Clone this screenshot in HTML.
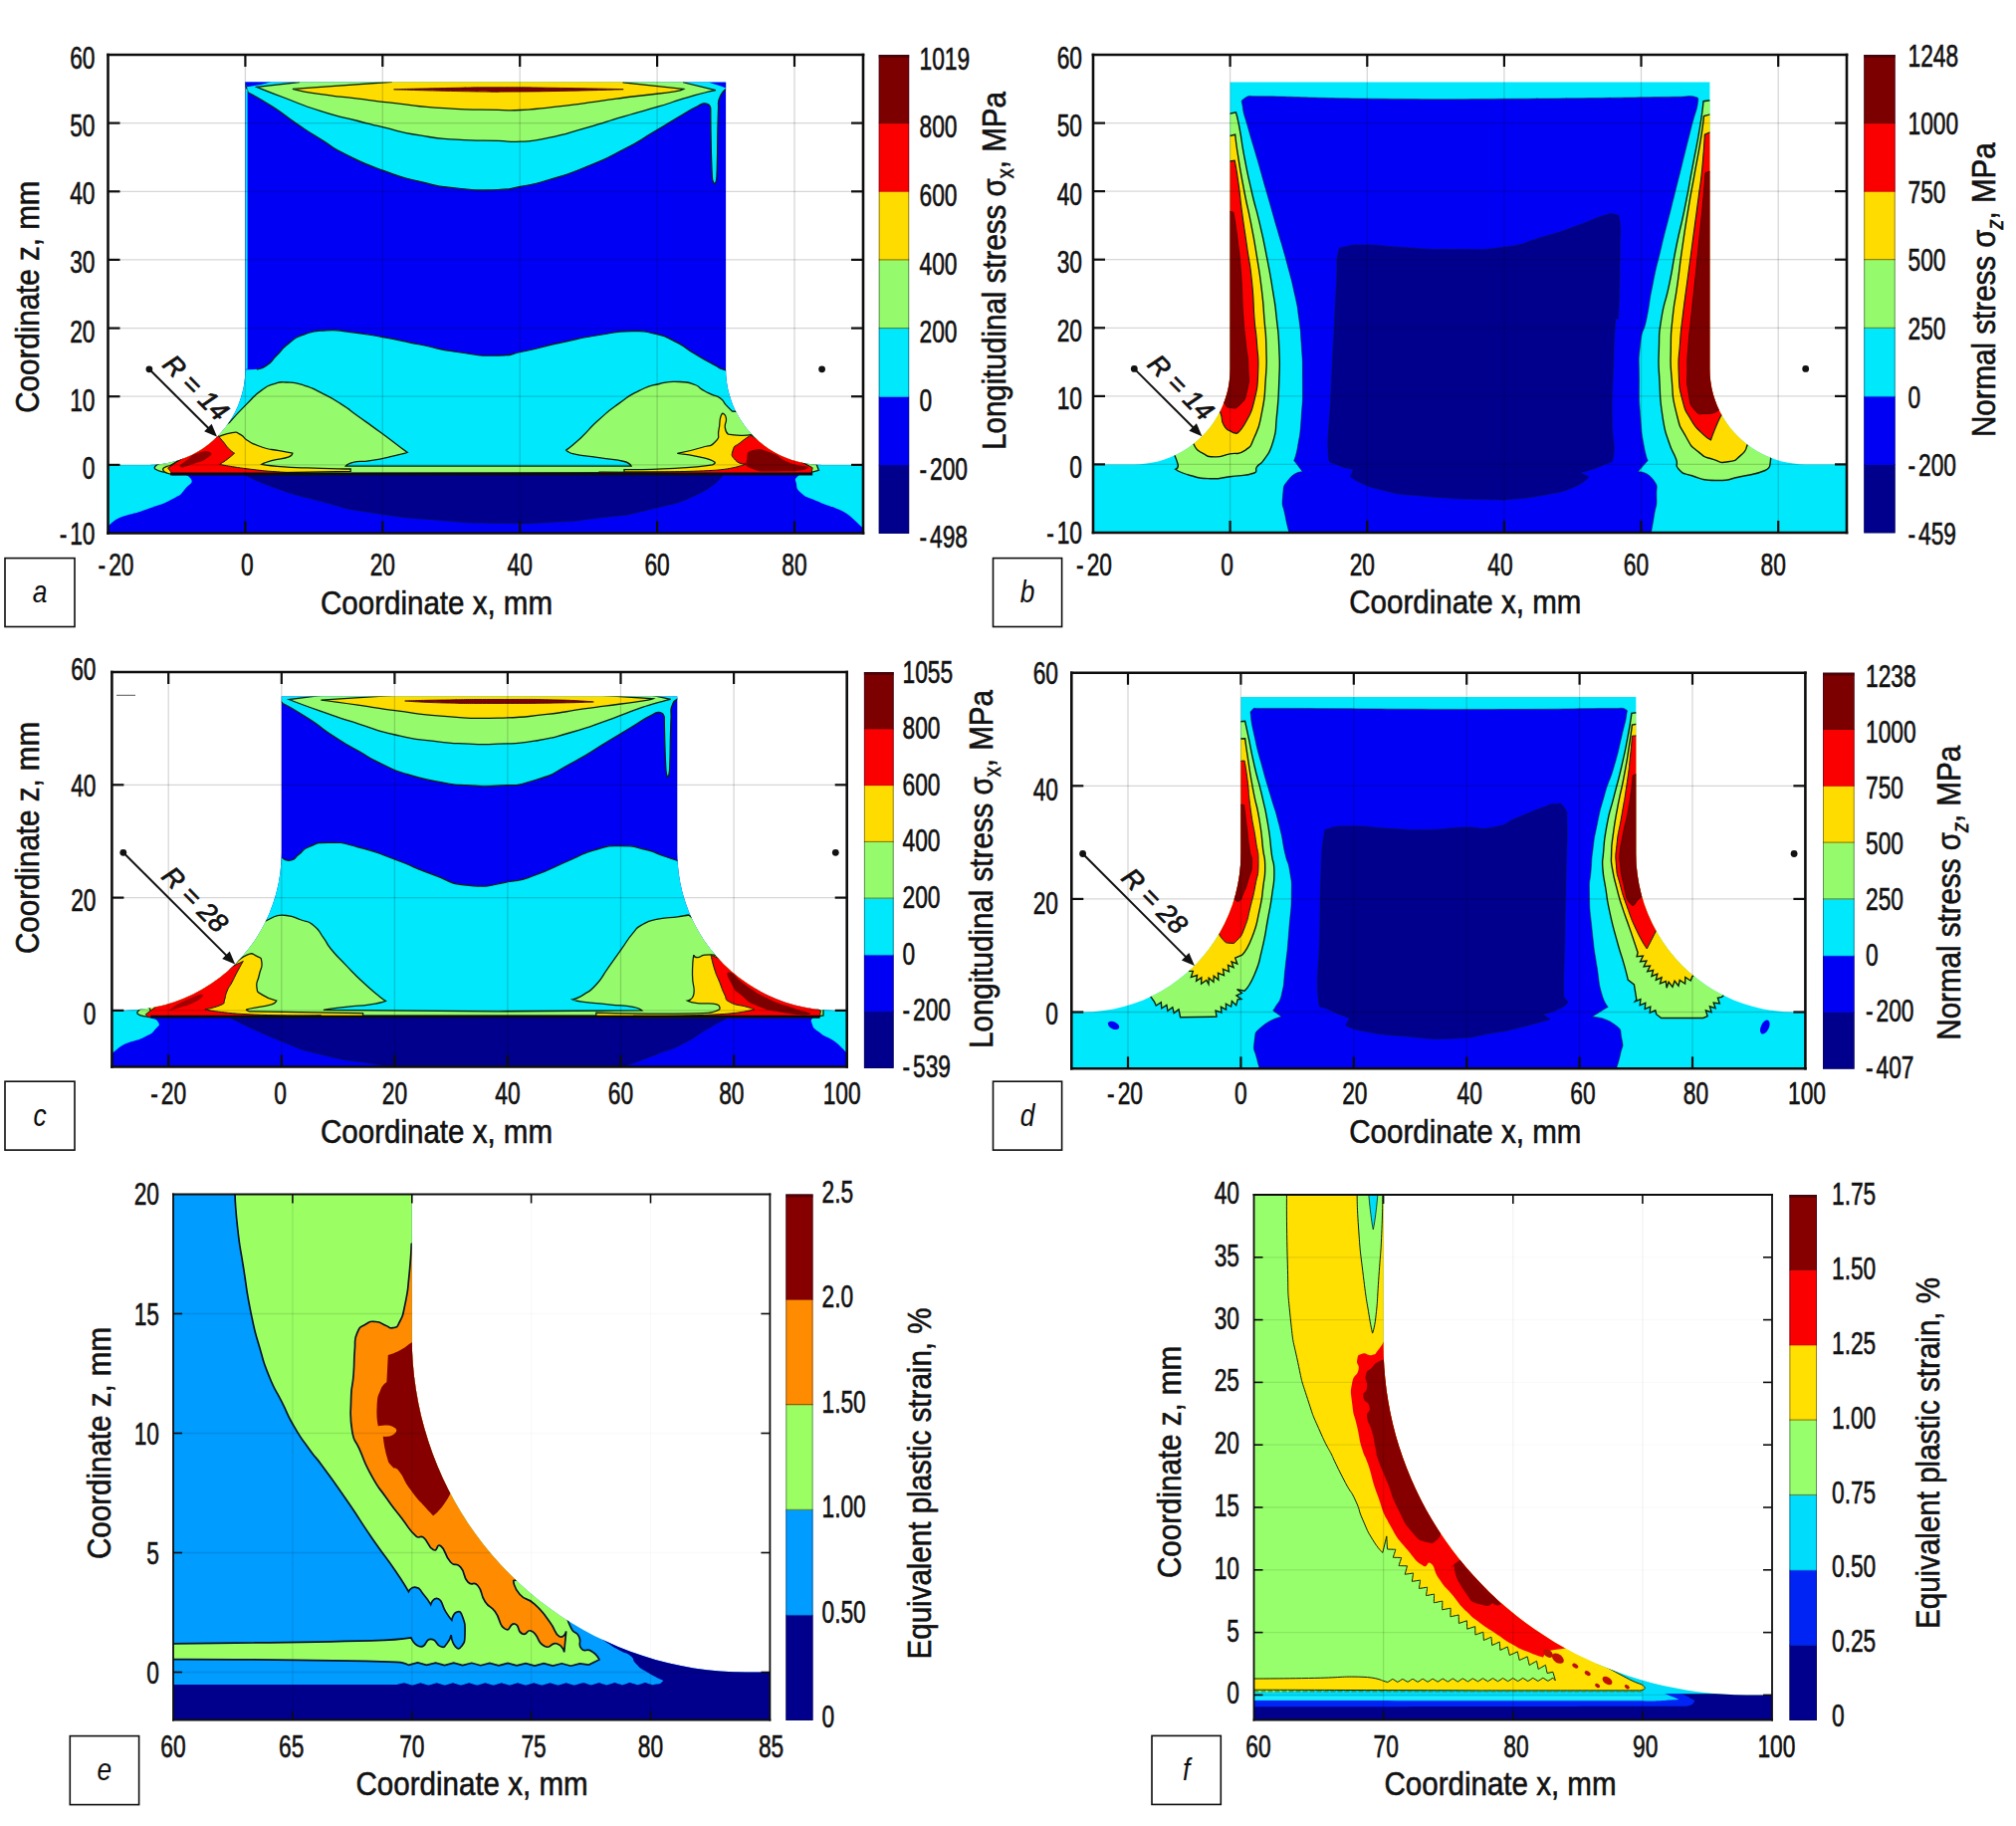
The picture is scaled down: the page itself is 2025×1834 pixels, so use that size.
<!DOCTYPE html><html><head><meta charset="utf-8"><title>Figure</title><style>html,body{margin:0;padding:0;background:#fff}svg{display:block}</style></head><body><svg width="2025" height="1834" viewBox="0 0 2025 1834" font-family="'Liberation Sans', sans-serif">
<defs>
<clipPath id="ca"><rect x="108.5" y="55" width="758.5" height="480.5"/></clipPath>
<clipPath id="cb"><rect x="1098" y="55" width="757" height="480"/></clipPath>
<clipPath id="cc"><rect x="112.4" y="675" width="738.3" height="396.5"/></clipPath>
<clipPath id="cd"><rect x="1076.3" y="675.7" width="737.1" height="397.6"/></clipPath>
<clipPath id="ce"><rect x="174" y="1199.5" width="599.4" height="528"/></clipPath>
<clipPath id="cf"><rect x="1259.5" y="1200" width="520.5" height="527.5"/></clipPath>
</defs>
<rect width="2025" height="1834" fill="#fff"/>
<g clip-path="url(#ca)"><clipPath id="spa"><path d="M101.6 466.9 L149.9 466.9 L156.2 466.7 L162.5 466 L168.7 465 L174.9 463.6 L180.9 461.8 L186.8 459.5 L192.6 456.9 L198.1 454 L203.5 450.7 L208.6 447 L213.5 443 L218.1 438.7 L222.5 434.1 L226.5 429.3 L230.1 424.1 L233.5 418.8 L236.5 413.3 L239.1 407.5 L241.3 401.6 L243.1 395.6 L244.6 389.5 L245.6 383.3 L246.2 377 L246.4 370.8 L246.4 82.5 L729.1 82.5 L729.1 370.8 L729.3 377 L729.9 383.3 L730.9 389.5 L732.4 395.6 L734.2 401.6 L736.4 407.5 L739 413.3 L742 418.8 L745.4 424.1 L749 429.3 L753 434.1 L757.4 438.7 L762 443 L766.9 447 L772 450.7 L777.4 454 L782.9 456.9 L788.7 459.5 L794.6 461.8 L800.6 463.6 L806.8 465 L813 466 L819.3 466.7 L825.6 466.9 L873.9 466.9 L873.9 542.4 L101.6 542.4Z"/></clipPath><g clip-path="url(#spa)"><rect x="108.5" y="55" width="758.5" height="480.5" fill="#0000f4"/><path d="M99.2 458.9C119 437 138.1 455.6 158.7 458.9C165.5 460 156.6 463.8 161.2 468.8C166.2 474.2 165 471.8 173.6 475C183.5 478.7 186.8 474.6 191 480C195.1 485.3 191.2 484.8 186 491.1C180.2 498.2 183 496.1 173.6 501.1C161.2 507.7 165.3 505.2 148.8 511C132.5 516.7 140.5 513.9 124 518.4C107.6 522.9 105.8 540.3 99.2 524.6C90.9 504.8 79.4 480.8 99.2 458.9Z" fill="#00e8fc"/><path d="M881 462.2C861.9 440.6 843.1 460.1 823.8 462.2C819.6 462.7 826.2 465.7 823 468.6C819.2 472 819.2 469.2 812.4 472.4C805 475.8 805.2 474.5 801 478.7C797.9 481.8 798.7 480.9 799.7 485.1C801 490.6 799.1 490.3 804.8 495.2C811.5 501.2 809.6 498.3 820 502.9C832.7 508.4 827.7 505.7 842.9 511.7C863.2 519.8 868.3 543.5 881 527C893.7 510.5 900 483.8 881 462.2Z" fill="#00e8fc"/><path d="M244.3 475.8C244.3 475.8 253.2 481.7 272.8 488.7C298.9 497.9 289.4 494.9 322.4 503.5C355.2 512.1 338.5 509.5 372 514.7C413.4 521.1 403.8 519.3 446.4 522.9C482.1 525.8 465.2 524.8 500 525.4C533.9 525.9 517 526.4 550.8 524.7C584.7 523 567.9 524.4 601.6 520.1C635.4 515.8 619 519.9 652.4 511.7C686.2 503.4 678.6 506.8 703.2 495.2C720.8 486.9 726 477 726 477C726 477 244.3 475.8 244.3 475.8Z" fill="#00008d" stroke="#06200a" stroke-width="0.8" stroke-opacity="0.5"/><path d="M223.2 370.8C223.2 370.8 243.1 372.1 257.9 370.8C265 370.3 262 371.1 267.9 367.1C274.5 362.6 271.2 363.8 277.8 357.2C285.2 349.8 281.1 351.8 290.2 344.8C299.3 337.8 294.2 339.9 305.1 336.1C317.5 331.8 312.3 332.7 327.4 331.9C343.1 331.1 335.7 331.7 352.2 333.6C371.2 335.9 363 334.8 384.4 338.6C407.6 342.7 396.8 341.1 421.6 346C446.4 351 433.8 349.9 458.8 353.5C485 357.2 477.8 357.4 500 357.2C517.2 357.1 508.6 356.5 525.4 353C546.6 348.7 538.1 349.6 563.5 344.1C588.8 338.6 577.9 340.3 601.6 336.5C623.5 333 616 333.1 634.6 332.7C649.9 332.4 643.1 331.9 657.5 335.2C671.5 338.6 664.8 336.4 677.8 342.9C691.3 349.6 685.4 347.9 698.1 355.6C709.8 362.6 705.5 360.2 715.9 365.7C724.6 370.3 719.5 370.4 729.3 372.1C742 374.2 754 372.1 754 372.1C754 372.1 839.4 473 839.4 473C839.4 473 136.1 473 136.1 473C136.1 473 223.2 370.8 223.2 370.8Z" fill="#00e8fc"/><path d="M257.9 370.8C257.9 370.8 262 371.1 267.9 367.1C274.5 362.6 271.2 363.8 277.8 357.2C285.2 349.8 281.1 351.8 290.2 344.8C299.3 337.8 294.2 339.9 305.1 336.1C317.5 331.8 312.3 332.7 327.4 331.9C343.1 331.1 335.7 331.7 352.2 333.6C371.2 335.9 363 334.8 384.4 338.6C407.6 342.7 396.8 341.1 421.6 346C446.4 351 433.8 349.9 458.8 353.5C485 357.2 477.8 357.4 500 357.2C517.2 357.1 508.6 356.5 525.4 353C546.6 348.7 538.1 349.6 563.5 344.1C588.8 338.6 577.9 340.3 601.6 336.5C623.5 333 616 333.1 634.6 332.7C649.9 332.4 643.1 331.9 657.5 335.2C671.5 338.6 664.8 336.4 677.8 342.9C691.3 349.6 685.4 347.9 698.1 355.6C709.8 362.6 705.5 360.2 715.9 365.7C724.6 370.3 729.3 372.1 729.3 372.1" fill="none" stroke="#06200a" stroke-width="1.2"/><path d="M230.7 424.2C230.7 424.2 237.3 416.3 248 405.6C257.5 396 253.8 398.5 262.9 391.9C270.4 386.5 267 388.4 275.3 385.7C283.2 383.2 279.4 383.6 287.7 384C297.6 384.4 293.8 383.6 305.1 387C316.6 390.4 311.2 388.8 322.4 394.4C334.8 400.6 329.9 397.7 342.3 405.6C354.3 413.2 348.1 409.7 359.6 418C372.9 427.5 367.9 423.8 381.9 434.1C395.3 443.9 392.7 442.2 401.8 449C406.7 452.6 409.2 454.4 409.2 454.4C409.2 454.4 405.2 455.8 396.8 457.6C384.4 460.4 386.1 460.4 372 462.6C360.5 464.4 362.9 462.5 354.7 464.3C349.2 465.5 347.2 468.1 347.2 468.1C347.2 468.1 500 468.1 500 468.1C500 468.1 500 468.1 500 468.1C500 468.1 634.1 468.1 634.1 468.1C634.1 468.1 632.4 464.9 627 463.5C616.1 460.7 618.5 462.2 601.6 459.7C584.7 457.1 587.2 458.4 576.2 455.9C570.7 454.6 568.6 452.1 568.6 452.1C568.6 452.1 574.1 448.3 583.8 439.4C594.8 429.2 589.1 432.8 601.6 421.6C614.3 410.2 608.4 414.8 621.9 405.1C634.9 395.8 628.7 398.9 642.2 392.4C655.1 386.2 649 388.5 662.5 385.5C675.8 382.6 671 383.2 682.9 383.5C693.2 383.8 690.5 383.8 698.1 386.5C703.8 388.6 700.4 388.5 705.7 391.6C711.2 394.8 708.7 393.4 714.6 396.2C720.4 398.9 718.6 396.4 723.5 400C728.4 403.5 725.4 402.5 729.3 406.9C733.2 411.1 735.4 413 735.4 413C735.4 413 779.4 416.5 779.4 416.5C779.4 416.5 820 466 820 466C820 466 822.5 472.4 822.5 472.4C822.5 472.4 814.9 474.4 814.9 474.4C814.9 474.4 173.6 475.8 173.6 475.8C173.6 475.8 161.2 474.4 156.2 471.3C153.1 469.3 158.7 466.3 158.7 466.3C158.7 466.3 230.7 424.2 230.7 424.2Z" fill="#96fb6c" stroke="#06200a" stroke-width="1.3"/><path d="M213.3 441.5C213.3 441.5 223.6 436.2 233.1 434.6C239 433.6 236.9 434.1 241.8 436.6C246.7 439 243.3 439.2 248 442C255 446.2 252.5 445.5 262.9 449C273.6 452.5 269.9 450.6 280.3 452.7C289.3 454.5 293.9 455.2 293.9 455.2C293.9 455.2 293.5 457.7 290.2 458.9C283.2 461.4 281.9 460.1 272.8 462.6C266 464.5 262.9 466.3 262.9 466.3C262.9 466.3 270.3 467.8 285.2 468.8C305.1 470.1 300.1 469.6 322.4 470.3C342.3 471 352.2 471 352.2 471C352.2 471 352.2 473.3 352.2 473.3C352.2 473.3 173.6 476.7 173.6 476.7C173.6 476.7 164.5 474.8 163.7 471.8C162.9 468.7 171.1 467.6 171.1 467.6C171.1 467.6 213.3 441.5 213.3 441.5Z" fill="#ffdc00" stroke="#06200a" stroke-width="1.3"/><path d="M627 471.6C627 471.6 648.2 472 677.8 470.3C703.1 469 715.6 466.8 715.6 466.8C715.6 466.8 719.6 465.3 717.7 464C714 461.5 713.6 461.5 704.7 459.4C692.3 456.6 680.3 455.4 680.3 455.4C680.3 455.4 692 453.4 704.7 449.5C714.2 446.6 712.7 449.6 718.4 443.7C724.2 437.8 720.3 439.7 722 431.7C723.6 423.9 722.3 425.3 723.5 419.8C724.2 416.5 725.5 415.2 725.5 415.2C725.5 415.2 728.6 415.9 729.3 419.8C730.3 424.6 727.6 424.3 728.3 429.7C728.9 434.4 731.4 436.1 731.4 436.1C731.4 436.1 736.2 437.2 743.8 437.3C750.8 437.5 754.2 436.6 754.2 436.6C754.2 436.6 779.4 447 779.4 447C779.4 447 814.9 469.8 814.9 469.8C814.9 469.8 814.9 475.4 814.9 475.4C814.9 475.4 627 473.9 627 473.9C627 473.9 627 471.6 627 471.6Z" fill="#ffdc00" stroke="#06200a" stroke-width="1.3"/><path d="M168.7 470C168.7 470 218.3 436.6 218.3 436.6C218.3 436.6 220.3 439 224.5 444C228.6 449 226.9 447.7 230.7 451.4C233.6 454.4 235.6 455.2 235.6 455.2C235.6 455.2 233.1 457.6 228.2 461.4C223.4 464.9 220.7 466.3 220.7 466.3C220.7 466.3 229.7 468.5 248 470.8C269.5 473.4 264.6 472.8 285.2 474.3C301.7 475.5 310 475.3 310 475.3C310 475.3 310 476.7 310 476.7C310 476.7 173.6 476.7 173.6 476.7C173.6 476.7 168.7 470 168.7 470Z" fill="#fb0000" stroke="#06200a" stroke-width="1.0"/><path d="M754 437.3C754 437.3 749.7 439.5 743.8 444.4C738.3 449 737.9 446.1 736.2 452.1C734.5 458 734.5 457.6 738.7 462.2C743 466.9 748.9 466 748.9 466C748.9 466 738.3 471.2 715.9 472.4C666.8 475 601.6 473.9 601.6 473.9C601.6 473.9 601.6 475.9 601.6 475.9C601.6 475.9 814.9 475.9 814.9 475.9C814.9 475.9 816.2 469.8 816.2 469.8C816.2 469.8 754 437.3 754 437.3Z" fill="#fb0000" stroke="#06200a" stroke-width="1.0"/><path d="M756.5 452.1C764.6 449.9 763 450.7 774.3 454.6C786.1 458.7 779.8 459 792.1 464.3C804.3 469.5 815.3 467.3 811.1 470.3C806.9 473.4 798.4 473.4 779.4 473.4C762.3 473.4 763.7 474.5 754 470.3C747.7 467.7 749.3 467 750.2 461C751 454.9 749.5 453.9 756.5 452.1Z" fill="#7c0000"/><path d="M198.4 455.2C205.9 452.7 207.5 452.3 210.8 453.9C214.1 455.6 212 457.5 208.3 460.1C202.5 464.3 202.5 463.4 193.5 466.3C185.4 468.9 182.7 470.5 181.1 468.8C179.4 467.2 183 465.7 188.5 461.4C194.3 456.8 191 457.6 198.4 455.2Z" fill="#7c0000" opacity="0.85"/><line x1="171.1" y1="475.9" x2="816.2" y2="475.9" stroke="#0a0a14" stroke-width="3"/><path d="M244.3 79.4C244.3 79.4 249.3 93 249.3 93C249.3 93 257.5 96.9 272.8 106.6C288.9 117 281.1 112.8 297.6 124C314 135 305.9 129.8 322.4 140.1C338.8 150.3 330 146.4 347.2 155C367.9 165.3 359.6 162 384.4 171.1C408.7 180 396.8 176.3 421.6 182.3C446.1 188.2 433.8 186.4 458.8 189C485 191.7 478.7 191 500 190.5C515.4 190.1 507.8 190.3 522.9 187.4C539.8 184.2 532.5 186.3 550.8 180.8C572.8 174.2 564 177.7 588.9 167.6C614.3 157.3 604.1 161.7 627 149.8C647.9 139 638.8 143.1 657.5 132.1C674.5 122 668.5 125.3 682.9 116.8C694.6 109.9 691.7 110.9 700.6 106.7C706.2 104 705.1 103.3 709.5 104.1C713.9 105 713.8 109.2 713.8 109.2C713.8 109.2 714 152.6 715.4 177.8C715.6 182.8 717.9 184.9 717.9 184.9C717.9 184.9 719.7 182.7 719.9 177.8C721.1 152.6 720.3 136.3 721.5 109.2C721.8 100.6 720.3 103.3 723.5 96.5C726.6 90 731.1 88.9 731.1 88.9C731.1 88.9 731.1 81.3 731.1 81.3C731.1 81.3 244.3 79.4 244.3 79.4Z" fill="#00e8fc" stroke="#06200a" stroke-width="1.2"/><path d="M257.9 87.3C257.9 87.3 266.9 91.1 285.2 98C306.7 106.1 297.6 103.8 322.4 111.6C346.9 119.4 339 116.2 359.6 121.5C376.1 125.8 367.8 123.9 384.4 127.7C405.1 132.5 396.8 131.8 421.6 135.9C446.2 140 433.9 138.4 458.8 140.1C485 141.9 478.7 140.7 500 141.4C515.2 141.9 507.6 143.1 522.9 142.2C539.8 141.2 532.4 142.3 550.8 138.4C572.8 133.8 563.6 135.4 588.9 128.3C614.3 121.1 602.4 124 627 116.8C650.6 109.9 641.4 113 662.5 106.7C681.3 101.1 671.7 103.1 690.5 97.8C709.3 92.4 718.9 90.7 718.9 90.7C718.9 90.7 686.7 82.8 686.7 82.8C686.7 82.8 686.7 76.2 686.7 76.2C686.7 76.2 300.1 74.4 300.1 74.4C300.1 74.4 300.1 82.6 300.1 82.6C300.1 82.6 257.9 87.3 257.9 87.3Z" fill="#96fb6c" stroke="#06200a" stroke-width="1.3"/><path d="M293.9 89.3C293.9 89.3 303.3 91.9 322.4 94.7C344.3 98 334.8 96.2 359.6 99.2C384.4 102.2 372 101 396.8 103.7C425.8 106.8 413.3 106.5 446.4 108.6C480.8 110.9 474.5 109.8 500 110.4C515.2 110.7 507.6 111.4 522.9 110.5C544 109.2 537.2 109.6 563.5 106.7C589 103.8 576.2 105 601.6 101.6C627 98.2 614.3 99.7 639.7 96.5C665.1 93.3 662.1 94.3 677.8 91.9C683.9 91 686.7 89.4 686.7 89.4C686.7 89.4 626.2 82.8 626.2 82.8C626.2 82.8 626.2 76.2 626.2 76.2C626.2 76.2 393.1 74.4 393.1 74.4C393.1 74.4 393.1 82.3 393.1 82.3C393.1 82.3 293.9 89.3 293.9 89.3Z" fill="#ffdc00" stroke="#06200a" stroke-width="1.3"/><path d="M395.6 89.8C395.6 89.8 412.5 89.2 446.4 88.5C481.2 87.9 464.3 87.8 500 87.8C539 87.7 521.4 87.8 563.5 88.4C605.3 89 626.2 89.7 626.2 89.7C626.2 89.7 605.3 90.6 563.5 91.4C521.4 92.3 521.2 91.9 500 92.2C500 92.2 500 92.3 500 92.3C482.1 92 481.2 92.1 446.4 91.3C412.5 90.5 395.6 89.8 395.6 89.8Z" fill="#7c0000" stroke="#300" stroke-width="0.8"/><path d="M245.5 81.8 L272.8 82.3 L262.9 84.8 L248 87.3Z" fill="#0000f4"/><path d="M712.1 82.8 L730.1 82.8 L730.1 88.9 L723.5 86.3Z" fill="#0000f4"/><line x1="247.5" y1="89.3" x2="247.5" y2="370.8" stroke="#00e8fc" stroke-width="2.2"/></g><g stroke="#000" stroke-opacity="0.16" stroke-width="1.3"><line x1="246.4" y1="55" x2="246.4" y2="535.5"/><line x1="384.3" y1="55" x2="384.3" y2="535.5"/><line x1="522.2" y1="55" x2="522.2" y2="535.5"/><line x1="660.1" y1="55" x2="660.1" y2="535.5"/><line x1="798" y1="55" x2="798" y2="535.5"/><line x1="108.5" y1="466.9" x2="867" y2="466.9"/><line x1="108.5" y1="398.2" x2="867" y2="398.2"/><line x1="108.5" y1="329.6" x2="867" y2="329.6"/><line x1="108.5" y1="260.9" x2="867" y2="260.9"/><line x1="108.5" y1="192.3" x2="867" y2="192.3"/><line x1="108.5" y1="123.6" x2="867" y2="123.6"/></g></g>
<g stroke="#0d0d0d" fill="none"><g stroke-width="2.6" stroke-linecap="square"><line x1="108.5" y1="55" x2="108.5" y2="535.5"/><line x1="867" y1="55" x2="867" y2="535.5"/><line x1="108.5" y1="55" x2="867" y2="55"/><line x1="108.5" y1="535.5" x2="867" y2="535.5"/></g><g stroke-width="2.2"><line x1="246.4" y1="55" x2="246.4" y2="67"/><line x1="246.4" y1="535.5" x2="246.4" y2="523.5"/><line x1="384.3" y1="55" x2="384.3" y2="67"/><line x1="384.3" y1="535.5" x2="384.3" y2="523.5"/><line x1="522.2" y1="55" x2="522.2" y2="67"/><line x1="522.2" y1="535.5" x2="522.2" y2="523.5"/><line x1="660.1" y1="55" x2="660.1" y2="67"/><line x1="660.1" y1="535.5" x2="660.1" y2="523.5"/><line x1="798" y1="55" x2="798" y2="67"/><line x1="798" y1="535.5" x2="798" y2="523.5"/><line x1="108.5" y1="466.9" x2="120.5" y2="466.9"/><line x1="867" y1="466.9" x2="855" y2="466.9"/><line x1="108.5" y1="398.2" x2="120.5" y2="398.2"/><line x1="867" y1="398.2" x2="855" y2="398.2"/><line x1="108.5" y1="329.6" x2="120.5" y2="329.6"/><line x1="867" y1="329.6" x2="855" y2="329.6"/><line x1="108.5" y1="260.9" x2="120.5" y2="260.9"/><line x1="867" y1="260.9" x2="855" y2="260.9"/><line x1="108.5" y1="192.3" x2="120.5" y2="192.3"/><line x1="867" y1="192.3" x2="855" y2="192.3"/><line x1="108.5" y1="123.6" x2="120.5" y2="123.6"/><line x1="867" y1="123.6" x2="855" y2="123.6"/></g></g>
<text transform="translate(116.5 578) scale(0.746 1)" font-size="30.5" text-anchor="middle" fill="#111" stroke="#111" stroke-width="0.6">-<tspan dx="4">20</tspan></text><text transform="translate(248.4 578) scale(0.746 1)" font-size="30.5" text-anchor="middle" fill="#111" stroke="#111" stroke-width="0.6">0</text><text transform="translate(384.3 578) scale(0.746 1)" font-size="30.5" text-anchor="middle" fill="#111" stroke="#111" stroke-width="0.6">20</text><text transform="translate(522.2 578) scale(0.746 1)" font-size="30.5" text-anchor="middle" fill="#111" stroke="#111" stroke-width="0.6">40</text><text transform="translate(660.1 578) scale(0.746 1)" font-size="30.5" text-anchor="middle" fill="#111" stroke="#111" stroke-width="0.6">60</text><text transform="translate(798 578) scale(0.746 1)" font-size="30.5" text-anchor="middle" fill="#111" stroke="#111" stroke-width="0.6">80</text><text transform="translate(95.5 546.9) scale(0.746 1)" font-size="30.5" text-anchor="end" fill="#111" stroke="#111" stroke-width="0.6">-<tspan dx="4">10</tspan></text><text transform="translate(95.5 481.2) scale(0.746 1)" font-size="30.5" text-anchor="end" fill="#111" stroke="#111" stroke-width="0.6">0</text><text transform="translate(95.5 413.2) scale(0.746 1)" font-size="30.5" text-anchor="end" fill="#111" stroke="#111" stroke-width="0.6">10</text><text transform="translate(95.5 343.6) scale(0.746 1)" font-size="30.5" text-anchor="end" fill="#111" stroke="#111" stroke-width="0.6">20</text><text transform="translate(95.5 273.5) scale(0.746 1)" font-size="30.5" text-anchor="end" fill="#111" stroke="#111" stroke-width="0.6">30</text><text transform="translate(95.5 204.5) scale(0.746 1)" font-size="30.5" text-anchor="end" fill="#111" stroke="#111" stroke-width="0.6">40</text><text transform="translate(95.5 136.9) scale(0.746 1)" font-size="30.5" text-anchor="end" fill="#111" stroke="#111" stroke-width="0.6">50</text><text transform="translate(95.5 69) scale(0.746 1)" font-size="30.5" text-anchor="end" fill="#111" stroke="#111" stroke-width="0.6">60</text>
<rect x="882.7" y="466.9" width="30.5" height="69.1" fill="#00008d"/><rect x="882.7" y="398.2" width="30.5" height="69.1" fill="#0000f4"/><rect x="882.7" y="329.6" width="30.5" height="69.1" fill="#00e8fc"/><rect x="882.7" y="260.9" width="30.5" height="69.1" fill="#96fb6c"/><rect x="882.7" y="192.3" width="30.5" height="69.1" fill="#ffdc00"/><rect x="882.7" y="123.6" width="30.5" height="69.1" fill="#fb0000"/><rect x="882.7" y="55" width="30.5" height="69.1" fill="#7c0000"/><rect x="882.7" y="55" width="30.5" height="3" fill="#3a0000" opacity="0.55"/><line x1="882.7" y1="466.9" x2="913.2" y2="466.9" stroke="#1a2a10" stroke-width="1" opacity="0.15"/><line x1="882.7" y1="398.2" x2="913.2" y2="398.2" stroke="#1a2a10" stroke-width="1" opacity="0.15"/><line x1="882.7" y1="329.6" x2="913.2" y2="329.6" stroke="#1a2a10" stroke-width="1" opacity="0.6"/><line x1="882.7" y1="260.9" x2="913.2" y2="260.9" stroke="#1a2a10" stroke-width="1" opacity="0.6"/><line x1="882.7" y1="192.3" x2="913.2" y2="192.3" stroke="#1a2a10" stroke-width="1" opacity="0.15"/><line x1="882.7" y1="123.6" x2="913.2" y2="123.6" stroke="#1a2a10" stroke-width="1" opacity="0.15"/><rect x="883.2" y="55.5" width="29.5" height="479.5" fill="none" stroke="#101030" stroke-width="1" opacity="0.45"/><text transform="translate(923.5 550.3) scale(0.746 1)" font-size="30.5" text-anchor="start" fill="#111" stroke="#111" stroke-width="0.6">-<tspan dx="4">498</tspan></text><text transform="translate(923.5 481.7) scale(0.746 1)" font-size="30.5" text-anchor="start" fill="#111" stroke="#111" stroke-width="0.6">-<tspan dx="4">200</tspan></text><text transform="translate(923.5 413) scale(0.746 1)" font-size="30.5" text-anchor="start" fill="#111" stroke="#111" stroke-width="0.6">0</text><text transform="translate(923.5 344.4) scale(0.746 1)" font-size="30.5" text-anchor="start" fill="#111" stroke="#111" stroke-width="0.6">200</text><text transform="translate(923.5 275.7) scale(0.746 1)" font-size="30.5" text-anchor="start" fill="#111" stroke="#111" stroke-width="0.6">400</text><text transform="translate(923.5 207.1) scale(0.746 1)" font-size="30.5" text-anchor="start" fill="#111" stroke="#111" stroke-width="0.6">600</text><text transform="translate(923.5 138.4) scale(0.746 1)" font-size="30.5" text-anchor="start" fill="#111" stroke="#111" stroke-width="0.6">800</text><text transform="translate(923.5 69.8) scale(0.746 1)" font-size="30.5" text-anchor="start" fill="#111" stroke="#111" stroke-width="0.6">1019</text>
<text transform="translate(438.5 616.7) scale(0.869 1)" font-size="34" text-anchor="middle" fill="#111" stroke="#111" stroke-width="0.6">Coordinate x, mm</text>
<text transform="translate(39.1 298.2) rotate(-90) scale(0.869 1)" font-size="34" text-anchor="middle" fill="#111" stroke="#111" stroke-width="0.6">Coordinate z, mm</text>
<text transform="translate(1009.5 272) rotate(-90) scale(0.869 1)" font-size="34" text-anchor="middle" fill="#111" stroke="#111" stroke-width="0.6">Longitudinal stress σ<tspan font-size="23" dy="8">x</tspan><tspan dy="-8">, MPa</tspan></text>
<circle cx="149.9" cy="370.8" r="3.4" fill="#111"/><circle cx="825.6" cy="370.8" r="3.4" fill="#111"/><line x1="149.9" y1="370.8" x2="214.1" y2="434.7" stroke="#111" stroke-width="2"/><path d="M218.1 438.7 l-13 -5.5 l7.5 -7.5z" fill="#111"/><text transform="translate(190.3 396) rotate(45)" font-size="27" font-style="italic" fill="#111" stroke="#111" stroke-width="0.7" text-anchor="middle">R = 14</text>
<rect x="5" y="560.6" width="70" height="68.9" fill="#fff" stroke="#0d0d0d" stroke-width="1.6"/><text x="40" y="605" font-size="31" font-style="italic" text-anchor="middle" fill="#0d0d0d" transform="translate(40 0) scale(0.85 1) translate(-40 0)">a</text>
<g clip-path="url(#cb)"><clipPath id="spb"><path d="M1091.1 466.4 L1139.3 466.4 L1145.6 466.2 L1151.9 465.6 L1158.1 464.6 L1164.2 463.2 L1170.3 461.3 L1176.2 459.1 L1181.9 456.5 L1187.5 453.6 L1192.8 450.2 L1197.9 446.6 L1202.8 442.6 L1207.4 438.3 L1211.7 433.7 L1215.7 428.9 L1219.4 423.8 L1222.7 418.4 L1225.7 412.9 L1228.3 407.2 L1230.5 401.3 L1232.4 395.3 L1233.8 389.2 L1234.8 383 L1235.4 376.7 L1235.6 370.4 L1235.6 82.4 L1717.4 82.4 L1717.4 370.4 L1717.6 376.7 L1718.2 383 L1719.2 389.2 L1720.6 395.3 L1722.5 401.3 L1724.7 407.2 L1727.3 412.9 L1730.3 418.4 L1733.6 423.8 L1737.3 428.9 L1741.3 433.7 L1745.6 438.3 L1750.2 442.6 L1755.1 446.6 L1760.2 450.2 L1765.5 453.6 L1771.1 456.5 L1776.8 459.1 L1782.7 461.3 L1788.8 463.2 L1794.9 464.6 L1801.1 465.6 L1807.4 466.2 L1813.7 466.4 L1861.9 466.4 L1861.9 541.9 L1091.1 541.9Z"/></clipPath><g clip-path="url(#spb)"><rect x="1098" y="55" width="757" height="480" fill="#00e8fc"/><path d="M1262.5 96.7C1254.1 96.7 1254.9 95.4 1250.1 98.7C1245.6 101.8 1247.4 101.2 1248.1 106.6C1249.4 116.7 1249.7 114.2 1253.8 129C1258.6 146.3 1256.8 138.9 1262.5 158.7C1268.7 180.2 1265.8 170.3 1272.4 193.5C1279 216.6 1275.7 205 1282.3 228.2C1289 251.3 1286.1 239.7 1292.3 262.9C1298.4 285.9 1296.8 278.6 1300.9 297.6C1304.1 312.4 1302.7 305 1304.7 320C1306.7 335.7 1306.1 328.2 1307.1 344.8C1308.4 365.5 1308.4 357.2 1308.4 382C1308.4 406.8 1308.8 396.9 1307.1 419.2C1305.7 439.1 1305.9 434.5 1303.4 449C1301.8 458.3 1299.7 462.6 1299.7 462.6C1299.7 462.6 1308.4 473.8 1308.4 473.8C1308.4 473.8 1301.2 473.1 1294.7 481.2C1288.1 489.5 1289.8 486.3 1288.5 498.6C1287.3 511 1288.6 505.3 1291 518.4C1293.5 531.6 1296 538.3 1296 538.3C1296 538.3 1657.7 538.3 1657.7 538.3C1657.7 538.3 1659.3 531.6 1661.4 518.4C1663.5 505.2 1664.3 511 1663.9 498.6C1663.5 486.7 1666.4 489.5 1660.2 481.2C1654 472.9 1645.3 473.8 1645.3 473.8C1645.3 473.8 1655.2 462.6 1655.2 462.6C1655.2 462.6 1653.1 458.3 1651.5 449C1649 434.5 1649.2 439.1 1647.8 419.2C1646.1 396.9 1646.5 406.8 1646.5 382C1646.5 357.2 1645.3 365.5 1647.8 344.8C1649.8 327.8 1650.5 336.7 1654 319.9C1658.1 300.1 1655.4 308.2 1660.2 285.2C1665.1 261.2 1662.9 272.8 1668.8 248C1675 222.4 1672.2 234.8 1678.8 208.3C1685.4 181.9 1682.1 195.1 1688.7 168.7C1695.3 142.2 1693 151.3 1698.6 129C1703.2 110.8 1704.3 112.3 1705.6 101.7C1706 98 1705.9 98 1702.3 97.2C1695.9 95.7 1697 97.1 1686.2 97.2C1627.1 97.9 1625.7 98.5 1525 99.2C1431 99.8 1471.5 100 1384 99.2C1303 98.4 1307.1 96.9 1262.5 96.7Z" fill="#0000f4" stroke="#06200a" stroke-width="0.8" stroke-opacity="0.6"/><path d="M1344.3 253C1345.5 247.8 1345.4 249.3 1350.5 248C1359.6 245.7 1357.5 245.9 1371.6 246C1391.1 246.2 1384 247.2 1408.8 248.5C1437.8 250 1425.3 250.7 1458.4 250.5C1492.8 250.3 1481.5 252.1 1512 248C1537.8 244.5 1524.8 245.5 1549.8 238.1C1574.8 230.7 1566.3 233 1587 225.7C1603.7 219.8 1600.1 219.7 1611.8 216.3C1618.5 214.3 1617.3 213.8 1622.2 215.3C1626.7 216.6 1626 216.1 1626.7 220.7C1628.3 231.6 1627.4 229.8 1627.2 248C1626.8 281.1 1626.9 295.9 1625.4 319.9C1625.3 321.6 1623.1 318.4 1623 320C1621.3 336.6 1621.7 336.5 1620.5 369.6C1619.2 402.7 1619.2 389.4 1619.2 419.2C1619.2 445.7 1623 443.2 1620.5 458.9C1619.3 466.4 1618.7 463 1611.8 466.3C1600.6 471.7 1587 475 1587 475C1587 475 1595.7 478.7 1595.7 478.7C1595.7 478.7 1592.5 484.4 1582 488.7C1566.7 494.9 1571.7 493.2 1549.8 497.3C1526.7 501.7 1525.2 500.1 1512.6 501.8C1512.1 501.9 1512.5 502.3 1512 502.3C1485.7 501.2 1476.3 502.3 1433.6 498.6C1400.3 495.7 1409.7 497.7 1384 491.1C1364.7 486.1 1356.7 478.7 1356.7 478.7C1356.7 478.7 1359.2 471.3 1359.2 471.3C1359.2 471.3 1350.1 470.5 1341.9 466.3C1335.6 463.2 1334.9 465.9 1334.4 458.9C1332.8 434.9 1335 437.4 1336.9 394.4C1339 348.1 1338.8 356.4 1340.6 320C1341.8 296.8 1341.1 307.6 1342.4 285.2C1343.6 263.7 1341.6 265.4 1344.3 253Z" fill="#00008d" stroke="#06200a" stroke-width="0.8" stroke-opacity="0.5"/><path d="M1230.3 115.3C1230.3 115.3 1241.4 112.8 1241.4 112.8C1241.4 112.8 1243.1 118.1 1245.1 129C1248 144.3 1246.3 139 1250.1 158.7C1254.2 180.2 1252.6 172 1257.5 193.5C1262.1 213.4 1260.4 203.3 1265 223.2C1269.9 244.7 1267.9 234.8 1272.4 257.9C1276.9 281 1275.3 272 1278.6 292.7C1281.5 310.8 1280.4 301.7 1282.3 320C1284.4 339 1284 329.9 1284.8 349.8C1285.6 370.4 1285.6 360.5 1284.8 382C1284 405.2 1284.4 398.5 1282.3 419.2C1280.7 435.8 1282.8 430 1278.6 444C1275 456.4 1275.3 453.1 1269.9 461.4C1266.1 467.3 1265.8 464.3 1262.5 468.8C1259.9 472.4 1264.2 473.5 1260 475C1250.9 478.3 1250.1 476.8 1235.2 478.7C1222 480.4 1228.6 481.1 1215.4 480.7C1202.1 480.3 1207.1 480.6 1195.5 477.5C1185.2 474.7 1180.7 471.3 1180.7 471.3C1180.7 471.3 1184.1 469.9 1183.1 466.3C1180.7 457.2 1173.2 444 1173.2 444C1173.2 444 1210.4 320 1210.4 320C1210.4 320 1230.3 115.3 1230.3 115.3Z" fill="#96fb6c" stroke="#06200a" stroke-width="1.4"/><path d="M1230.3 137.6C1230.3 137.6 1240.7 135.2 1240.7 135.2C1240.7 135.2 1241.4 143.1 1243.9 158.7C1247 178.2 1246 172 1250.1 193.5C1253.9 213.4 1252.5 203.3 1256.3 223.2C1260.4 244.7 1258.8 234.8 1262.5 257.9C1266.2 281 1265 272 1267.5 292.7C1269.6 310.8 1268.5 301.8 1269.9 320C1271.4 339 1271.5 329.9 1271.9 349.8C1272.3 370.4 1272.7 360.6 1271.2 382C1269.7 403.5 1271.2 395.2 1267.5 414.2C1264.1 431.2 1265.8 426.2 1260 439C1255.4 449.3 1258.4 447.1 1250.1 452.7C1241.8 458.3 1245.1 453.8 1235.2 455.9C1225.3 458 1229.4 459.1 1220.3 458.9C1211.7 458.7 1214.5 458.5 1207.9 455.2C1202.2 452.3 1200.5 449 1200.5 449C1200.5 449 1195.5 439 1195.5 439C1195.5 439 1210.4 320 1210.4 320C1210.4 320 1230.3 137.6 1230.3 137.6Z" fill="#ffdc00" stroke="#06200a" stroke-width="1.4"/><path d="M1230.3 162.5C1230.3 162.5 1240.2 161.2 1240.2 161.2C1240.2 161.2 1241.8 168.6 1243.9 183.5C1246.4 200.9 1244.9 193.5 1247.6 213.3C1250.5 234.8 1249.3 224.9 1252.6 248C1255.9 271.2 1255.1 259.5 1257.5 282.7C1260 306.7 1258.4 299.3 1260 320C1261.3 336.6 1261.4 328.2 1262.5 344.8C1263.7 363 1264.6 355.5 1263.7 374.6C1262.9 392.9 1263.7 386.1 1260 401.8C1256.8 415.6 1258.4 410.5 1252.6 421.7C1247.4 431.7 1242.7 435.3 1242.7 435.3C1242.7 435.3 1239.6 435.7 1235.2 432.8C1230.7 430 1231.8 431.8 1229 426.6C1226.1 421.3 1228.6 423.2 1226.5 416.7C1224.5 410.1 1222.8 406.8 1222.8 406.8C1222.8 406.8 1210.4 320 1210.4 320C1210.4 320 1230.3 162.5 1230.3 162.5Z" fill="#fb0000" stroke="#06200a" stroke-width="1.1"/><path d="M1230.3 210.8C1230.3 210.8 1238.9 213.3 1238.9 213.3C1238.9 213.3 1240.6 221.5 1242.7 238.1C1245.1 257.9 1244.6 249.6 1246.4 272.8C1248.4 300.1 1247.2 296 1248.9 320C1250 336.6 1249.7 328.3 1251.3 344.8C1253 361.3 1253.4 353.9 1253.8 369.6C1254.2 384.5 1255.5 379.5 1252.6 391.9C1250.1 402.7 1250.9 401 1245.1 406.8C1240.3 411.6 1240.2 409.7 1235.2 409.3C1231.1 408.9 1232.8 408.8 1230.3 405.6C1226.9 401.4 1225.3 396.9 1225.3 396.9C1225.3 396.9 1210.4 320 1210.4 320C1210.4 320 1230.3 210.8 1230.3 210.8Z" fill="#7c0000" stroke="#300" stroke-width="0.8"/><path d="M1720.9 100.4C1720.9 100.4 1711 101.7 1711 101.7C1711 101.7 1710.3 110.9 1707.3 129C1703.6 151.3 1704.8 142.2 1699.9 168.7C1694.9 195.1 1697.8 182 1692.4 208.3C1687 234.8 1688.9 222.4 1683.7 248C1678.7 272.7 1681.7 261.2 1676.8 285.2C1672 308.5 1672.3 298.5 1668.8 320C1665.7 339.7 1667 329.9 1666.4 349.8C1665.7 370.4 1665.7 360.5 1666.9 382C1668.1 405.2 1666.9 398.5 1670.1 419.2C1672.7 436.1 1671.7 430 1676.3 444C1680.2 456 1680.4 452.3 1683.7 461.4C1686.1 467.8 1681.6 466.3 1686.2 471.3C1691.2 476.7 1689.8 474.8 1698.6 477.5C1711 481.2 1706.9 482 1723.4 482.5C1739.9 482.9 1731.8 482 1748.2 478.7C1764.7 475.4 1763.1 476.7 1773 472.5C1777.9 470.5 1778 466.3 1778 466.3C1778 466.3 1780.5 444 1780.5 444C1780.5 444 1748.2 320 1748.2 320C1748.2 320 1720.9 100.4 1720.9 100.4Z" fill="#96fb6c" stroke="#06200a" stroke-width="1.4"/><path d="M1720.9 114.1C1720.9 114.1 1711.5 116.6 1711.5 116.6C1711.5 116.6 1710.9 124.1 1708.5 138.9C1705.5 157.9 1706.5 150.5 1702.3 173.6C1698.2 196.8 1700 185.1 1696.1 208.3C1692 233.1 1693.7 222.4 1689.9 248C1686.3 272.8 1688.3 261.2 1685 285.2C1681.8 308.4 1682.2 298.5 1680 320C1678 339.8 1678.5 329.9 1678.3 349.8C1678 370.4 1677.5 360.6 1679.3 382C1681.1 403.5 1678.9 395.2 1683.7 414.2C1688.1 431.5 1686.2 425.8 1693.7 439C1700 450.3 1697 446.5 1706.1 453.9C1714.6 461 1711 458.1 1720.9 461.4C1730.5 464.5 1726.7 465.1 1735.8 463.8C1744.9 462.6 1742 462.6 1748.2 457.6C1753.8 453.2 1754.4 449 1754.4 449C1754.4 449 1760.6 431.6 1760.6 431.6C1760.6 431.6 1748.2 320 1748.2 320C1748.2 320 1720.9 114.1 1720.9 114.1Z" fill="#ffdc00" stroke="#06200a" stroke-width="1.4"/><path d="M1720.9 131.4C1720.9 131.4 1712.3 135.2 1712.3 135.2C1712.3 135.2 1711.8 147.6 1709.8 168.7C1707.8 188.6 1708.6 178.6 1706.1 198.4C1703.2 220.7 1704.4 210.8 1701.1 235.6C1697.8 260.4 1699.4 248 1696.1 272.8C1692.4 300.9 1692.8 296 1689.9 320C1687.9 336.5 1688.6 328.2 1687.5 344.8C1686.2 363 1685.4 355.5 1686.2 374.6C1687 392.9 1685.8 386.1 1689.9 401.8C1693.6 415.8 1692.4 410.9 1698.6 421.7C1703.9 430.9 1701.9 427.3 1708.5 434.1C1714.4 440.1 1718.5 442 1718.5 442C1718.5 442 1720.1 437.1 1723.4 429.1C1726.5 421.6 1728.4 418 1728.4 418C1728.4 418 1748.2 394.4 1748.2 394.4C1748.2 394.4 1748.2 320 1748.2 320C1748.2 320 1720.9 131.4 1720.9 131.4Z" fill="#fb0000" stroke="#06200a" stroke-width="1.1"/><path d="M1720.9 171.1C1720.9 171.1 1713 173.6 1713 173.6C1713 173.6 1712.5 181.9 1711 198.4C1709.1 219.1 1709.8 210.8 1707.3 235.6C1704.8 260.4 1706.1 248 1703.6 272.8C1700.7 300.9 1701.1 296 1698.6 320C1696.9 336.5 1697.4 328.3 1696.1 344.8C1694.9 361.3 1694.9 353.1 1694.9 369.6C1694.9 386.1 1693.7 380.4 1696.1 394.4C1698.3 406.5 1696.5 404.7 1702.3 411.8C1707.3 417.8 1706.1 415.1 1713.5 415.5C1720.9 415.9 1724.7 413 1724.7 413C1724.7 413 1748.2 394.4 1748.2 394.4C1748.2 394.4 1748.2 320 1748.2 320C1748.2 320 1720.9 171.1 1720.9 171.1Z" fill="#7c0000" stroke="#300" stroke-width="0.8"/></g><g stroke="#000" stroke-opacity="0.16" stroke-width="1.3"><line x1="1235.6" y1="55" x2="1235.6" y2="535"/><line x1="1373.3" y1="55" x2="1373.3" y2="535"/><line x1="1510.9" y1="55" x2="1510.9" y2="535"/><line x1="1648.5" y1="55" x2="1648.5" y2="535"/><line x1="1786.2" y1="55" x2="1786.2" y2="535"/><line x1="1098" y1="466.4" x2="1855" y2="466.4"/><line x1="1098" y1="397.9" x2="1855" y2="397.9"/><line x1="1098" y1="329.3" x2="1855" y2="329.3"/><line x1="1098" y1="260.7" x2="1855" y2="260.7"/><line x1="1098" y1="192.1" x2="1855" y2="192.1"/><line x1="1098" y1="123.6" x2="1855" y2="123.6"/></g></g>
<g stroke="#0d0d0d" fill="none"><g stroke-width="2.6" stroke-linecap="square"><line x1="1098" y1="55" x2="1098" y2="535"/><line x1="1855" y1="55" x2="1855" y2="535"/><line x1="1098" y1="55" x2="1855" y2="55"/><line x1="1098" y1="535" x2="1855" y2="535"/></g><g stroke-width="2.2"><line x1="1235.6" y1="55" x2="1235.6" y2="67"/><line x1="1235.6" y1="535" x2="1235.6" y2="523"/><line x1="1373.3" y1="55" x2="1373.3" y2="67"/><line x1="1373.3" y1="535" x2="1373.3" y2="523"/><line x1="1510.9" y1="55" x2="1510.9" y2="67"/><line x1="1510.9" y1="535" x2="1510.9" y2="523"/><line x1="1648.5" y1="55" x2="1648.5" y2="67"/><line x1="1648.5" y1="535" x2="1648.5" y2="523"/><line x1="1786.2" y1="55" x2="1786.2" y2="67"/><line x1="1786.2" y1="535" x2="1786.2" y2="523"/><line x1="1098" y1="466.4" x2="1110" y2="466.4"/><line x1="1855" y1="466.4" x2="1843" y2="466.4"/><line x1="1098" y1="397.9" x2="1110" y2="397.9"/><line x1="1855" y1="397.9" x2="1843" y2="397.9"/><line x1="1098" y1="329.3" x2="1110" y2="329.3"/><line x1="1855" y1="329.3" x2="1843" y2="329.3"/><line x1="1098" y1="260.7" x2="1110" y2="260.7"/><line x1="1855" y1="260.7" x2="1843" y2="260.7"/><line x1="1098" y1="192.1" x2="1110" y2="192.1"/><line x1="1855" y1="192.1" x2="1843" y2="192.1"/><line x1="1098" y1="123.6" x2="1110" y2="123.6"/><line x1="1855" y1="123.6" x2="1843" y2="123.6"/></g></g>
<text transform="translate(1099 578) scale(0.746 1)" font-size="30.5" text-anchor="middle" fill="#111" stroke="#111" stroke-width="0.6">-<tspan dx="4">20</tspan></text><text transform="translate(1232.6 578) scale(0.746 1)" font-size="30.5" text-anchor="middle" fill="#111" stroke="#111" stroke-width="0.6">0</text><text transform="translate(1368.3 578) scale(0.746 1)" font-size="30.5" text-anchor="middle" fill="#111" stroke="#111" stroke-width="0.6">20</text><text transform="translate(1506.9 578) scale(0.746 1)" font-size="30.5" text-anchor="middle" fill="#111" stroke="#111" stroke-width="0.6">40</text><text transform="translate(1643.5 578) scale(0.746 1)" font-size="30.5" text-anchor="middle" fill="#111" stroke="#111" stroke-width="0.6">60</text><text transform="translate(1781.2 578) scale(0.746 1)" font-size="30.5" text-anchor="middle" fill="#111" stroke="#111" stroke-width="0.6">80</text><text transform="translate(1087 546) scale(0.746 1)" font-size="30.5" text-anchor="end" fill="#111" stroke="#111" stroke-width="0.6">-<tspan dx="4">10</tspan></text><text transform="translate(1087 479.9) scale(0.746 1)" font-size="30.5" text-anchor="end" fill="#111" stroke="#111" stroke-width="0.6">0</text><text transform="translate(1087 411.4) scale(0.746 1)" font-size="30.5" text-anchor="end" fill="#111" stroke="#111" stroke-width="0.6">10</text><text transform="translate(1087 342.8) scale(0.746 1)" font-size="30.5" text-anchor="end" fill="#111" stroke="#111" stroke-width="0.6">20</text><text transform="translate(1087 274.2) scale(0.746 1)" font-size="30.5" text-anchor="end" fill="#111" stroke="#111" stroke-width="0.6">30</text><text transform="translate(1087 205.6) scale(0.746 1)" font-size="30.5" text-anchor="end" fill="#111" stroke="#111" stroke-width="0.6">40</text><text transform="translate(1087 137.1) scale(0.746 1)" font-size="30.5" text-anchor="end" fill="#111" stroke="#111" stroke-width="0.6">50</text><text transform="translate(1087 69) scale(0.746 1)" font-size="30.5" text-anchor="end" fill="#111" stroke="#111" stroke-width="0.6">60</text>
<rect x="1872.2" y="466.4" width="31.5" height="69.1" fill="#00008d"/><rect x="1872.2" y="397.9" width="31.5" height="69.1" fill="#0000f4"/><rect x="1872.2" y="329.3" width="31.5" height="69.1" fill="#00e8fc"/><rect x="1872.2" y="260.7" width="31.5" height="69.1" fill="#96fb6c"/><rect x="1872.2" y="192.1" width="31.5" height="69.1" fill="#ffdc00"/><rect x="1872.2" y="123.6" width="31.5" height="69.1" fill="#fb0000"/><rect x="1872.2" y="55" width="31.5" height="69.1" fill="#7c0000"/><rect x="1872.2" y="55" width="31.5" height="3" fill="#3a0000" opacity="0.55"/><line x1="1872.2" y1="466.4" x2="1903.7" y2="466.4" stroke="#1a2a10" stroke-width="1" opacity="0.15"/><line x1="1872.2" y1="397.9" x2="1903.7" y2="397.9" stroke="#1a2a10" stroke-width="1" opacity="0.15"/><line x1="1872.2" y1="329.3" x2="1903.7" y2="329.3" stroke="#1a2a10" stroke-width="1" opacity="0.6"/><line x1="1872.2" y1="260.7" x2="1903.7" y2="260.7" stroke="#1a2a10" stroke-width="1" opacity="0.6"/><line x1="1872.2" y1="192.1" x2="1903.7" y2="192.1" stroke="#1a2a10" stroke-width="1" opacity="0.15"/><line x1="1872.2" y1="123.6" x2="1903.7" y2="123.6" stroke="#1a2a10" stroke-width="1" opacity="0.15"/><rect x="1872.7" y="55.5" width="30.5" height="479" fill="none" stroke="#101030" stroke-width="1" opacity="0.45"/><text transform="translate(1916.5 546.7) scale(0.746 1)" font-size="30.5" text-anchor="start" fill="#111" stroke="#111" stroke-width="0.6">-<tspan dx="4">459</tspan></text><text transform="translate(1916.5 478.1) scale(0.746 1)" font-size="30.5" text-anchor="start" fill="#111" stroke="#111" stroke-width="0.6">-<tspan dx="4">200</tspan></text><text transform="translate(1916.5 409.6) scale(0.746 1)" font-size="30.5" text-anchor="start" fill="#111" stroke="#111" stroke-width="0.6">0</text><text transform="translate(1916.5 341) scale(0.746 1)" font-size="30.5" text-anchor="start" fill="#111" stroke="#111" stroke-width="0.6">250</text><text transform="translate(1916.5 272.4) scale(0.746 1)" font-size="30.5" text-anchor="start" fill="#111" stroke="#111" stroke-width="0.6">500</text><text transform="translate(1916.5 203.8) scale(0.746 1)" font-size="30.5" text-anchor="start" fill="#111" stroke="#111" stroke-width="0.6">750</text><text transform="translate(1916.5 135.3) scale(0.746 1)" font-size="30.5" text-anchor="start" fill="#111" stroke="#111" stroke-width="0.6">1000</text><text transform="translate(1916.5 66.7) scale(0.746 1)" font-size="30.5" text-anchor="start" fill="#111" stroke="#111" stroke-width="0.6">1248</text>
<text transform="translate(1471.8 616.4) scale(0.869 1)" font-size="34" text-anchor="middle" fill="#111" stroke="#111" stroke-width="0.6">Coordinate x, mm</text>
<text transform="translate(2004.3 291.2) rotate(-90) scale(0.869 1)" font-size="34" text-anchor="middle" fill="#111" stroke="#111" stroke-width="0.6">Normal stress σ<tspan font-size="23" dy="8" font-style="italic">z</tspan><tspan dy="-8">, MPa</tspan></text>
<circle cx="1139.3" cy="370.4" r="3.4" fill="#111"/><circle cx="1813.7" cy="370.4" r="3.4" fill="#111"/><line x1="1139.3" y1="370.4" x2="1203.4" y2="434.3" stroke="#111" stroke-width="2"/><path d="M1207.4 438.3 l-13 -5.5 l7.5 -7.5z" fill="#111"/><text transform="translate(1179.7 395.7) rotate(45)" font-size="27" font-style="italic" fill="#111" stroke="#111" stroke-width="0.7" text-anchor="middle">R = 14</text>
<rect x="997.5" y="560.6" width="69.1" height="68.9" fill="#fff" stroke="#0d0d0d" stroke-width="1.6"/><text x="1032" y="605" font-size="31" font-style="italic" text-anchor="middle" fill="#0d0d0d" transform="translate(1032 0) scale(0.85 1) translate(-1032 0)">b</text>
<g clip-path="url(#cc)"><clipPath id="spc"><path d="M106.7 1014.9 L123.8 1014.9 L134.2 1014.5 L144.5 1013.5 L154.8 1011.8 L164.9 1009.5 L174.9 1006.4 L184.6 1002.8 L194.1 998.5 L203.3 993.6 L212.1 988.1 L220.6 982.1 L228.6 975.5 L236.2 968.4 L243.3 960.8 L249.9 952.8 L256 944.4 L261.5 935.6 L266.4 926.4 L270.7 917 L274.3 907.2 L277.4 897.3 L279.7 887.2 L281.4 877 L282.4 866.6 L282.8 856.3 L282.8 699.4 L680.3 699.4 L680.3 856.3 L680.7 866.6 L681.7 877 L683.4 887.2 L685.7 897.3 L688.8 907.2 L692.4 917 L696.7 926.4 L701.6 935.6 L707.1 944.4 L713.2 952.8 L719.8 960.8 L726.9 968.4 L734.5 975.5 L742.5 982.1 L751 988.1 L759.8 993.6 L769 998.5 L778.5 1002.8 L788.2 1006.4 L798.2 1009.5 L808.3 1011.8 L818.6 1013.5 L828.9 1014.5 L839.3 1014.9 L856.4 1014.9 L856.4 1077.2 L106.7 1077.2Z"/></clipPath><g clip-path="url(#spc)"><rect x="112.4" y="675" width="738.3" height="396.5" fill="#0000f4"/><path d="M99.2 1006.3C112.4 989.8 125.2 1003.4 138.9 1006.3C144.6 1007.5 136.9 1010.1 140.1 1015C143.4 1020 142.7 1017.6 148.8 1021.2C155 1024.9 156.2 1022 158.7 1026.2C161.2 1030.3 159.6 1029.6 156.2 1033.6C152.1 1038.6 153.7 1037.4 146.3 1041.1C137.2 1045.6 140.7 1043.6 129 1047.3C113.3 1052.2 109.1 1069.6 99.2 1055.9C89.3 1042.3 86 1022.9 99.2 1006.3Z" fill="#00e8fc"/><path d="M864.2 1006.3C851.6 989.4 839.3 1003.4 826.5 1006.3C820.8 1007.6 828.8 1010.1 825.7 1015C822.6 1020 820.4 1016.7 817.1 1021.2C814.1 1025.3 814.2 1023.9 815.8 1028.7C817.5 1033.6 817 1032.1 822 1036.1C828.2 1041.1 825.8 1039.2 834.4 1043.5C848.5 1050.6 854.3 1069.6 864.2 1057.2C874.1 1044.8 876.7 1023.3 864.2 1006.3Z" fill="#00e8fc"/><path d="M229.4 1021.2C229.4 1021.2 248.4 1032 280.3 1044.8C309.4 1056.5 294.5 1052 324.9 1059.7C356.3 1067.5 348.9 1064 374.5 1068.3C392.7 1071.4 401.8 1072.8 401.8 1072.8C401.8 1072.8 401.8 1083.2 401.8 1083.2C401.8 1083.2 623.6 1083.2 623.6 1083.2C623.6 1083.2 623.6 1072.8 623.6 1072.8C623.6 1072.8 626 1071.5 631 1069.6C643.4 1064.8 642.6 1065.4 660.8 1058.4C677.4 1052 669.7 1056.5 685.6 1048.5C702.1 1040.2 695.1 1042.5 710.4 1033.6C724.4 1025.5 731.5 1021.7 731.5 1021.7C731.5 1021.7 229.4 1021.2 229.4 1021.2Z" fill="#00008d" stroke="#06200a" stroke-width="0.8" stroke-opacity="0.5"/><path d="M248 862C248 862 284 862 284 862C284 862 287.3 865.2 292.7 864C298 862.7 295.1 862 300.1 858.3C305.9 853.9 302.3 853.9 310 850.8C319.9 846.8 316.3 846.3 329.9 846.3C346.4 846.3 340.2 845.9 359.6 850.8C381.9 856.4 372.3 854.2 396.8 863.2C421.6 872.3 409.2 869.4 434 878.1C458.5 886.6 445.5 886.8 471.2 889.3C497.2 891.7 490.1 888.8 512 885.5C528.9 883 520.8 885.1 536.8 879.3C557.5 871.9 553.3 871.9 574 863.2C590.4 856.3 582.3 857.8 598.8 853.3C614.9 848.9 607.1 849.6 623.6 849.6C640.1 849.6 634.4 850 648.4 853.3C660.4 856.1 655 855.8 665.8 859.5C675.7 862.9 680.7 864.5 680.7 864.5C680.7 864.5 710.4 864.5 710.4 864.5C710.4 864.5 845 1020.5 845 1020.5C845 1020.5 118.1 1020.5 118.1 1020.5C118.1 1020.5 248 862 248 862Z" fill="#00e8fc"/><path d="M284 862C284 862 287.3 865.2 292.7 864C298 862.7 295.1 862 300.1 858.3C305.9 853.9 302.3 853.9 310 850.8C319.9 846.8 316.3 846.3 329.9 846.3C346.4 846.3 340.2 845.9 359.6 850.8C381.9 856.4 372.3 854.2 396.8 863.2C421.6 872.3 409.2 869.4 434 878.1C458.5 886.6 445.5 886.8 471.2 889.3C497.2 891.7 490.1 888.8 512 885.5C528.9 883 520.8 885.1 536.8 879.3C557.5 871.9 553.3 871.9 574 863.2C590.4 856.3 582.3 857.8 598.8 853.3C614.9 848.9 607.1 849.6 623.6 849.6C640.1 849.6 634.4 850 648.4 853.3C660.4 856.1 655 855.8 665.8 859.5C675.7 862.9 680.7 864.5 680.7 864.5" fill="none" stroke="#06200a" stroke-width="1.2"/><path d="M238.1 969.1C238.1 969.1 248 934.4 248 934.4C248 934.4 275.3 920.8 275.3 920.8C275.3 920.8 279.4 918.5 287.7 919.5C296.8 920.6 293.5 920.7 302.6 924C311.1 927.1 307.9 923.8 315 929.4C322.4 935.4 319.1 934 324.9 941.8C330.2 949 326.7 946.1 332.3 953C339.8 962.1 337.1 958.6 347.2 969.1C358 980.3 353 975.7 364.6 986.5C375.8 996.9 374.3 995.1 381.9 1001.4C385.4 1004.2 387.4 1005.3 387.4 1005.3C387.4 1005.3 382.4 1007.3 372 1008.8C358.6 1010.8 362.9 1009.5 347.2 1011.3C332.3 1013 324.9 1014.3 324.9 1014.3C324.9 1014.3 500 1015.8 500 1015.8C500 1015.8 644.7 1014.8 644.7 1014.8C644.7 1014.8 642.1 1012.4 636 1011.3C624.8 1009.3 627.7 1010.5 611.2 1008.8C594.7 1007.2 598.4 1008 586.4 1006.3C578.9 1005.3 575.2 1003.8 575.2 1003.8C575.2 1003.8 579.5 1003.2 586.4 998.9C594.3 993.9 591.7 996.8 598.8 989C607.1 979.9 602.9 983.2 611.2 971.6C619.5 960 615.3 965.8 623.6 954.2C631.9 942.7 628.6 945.6 636 936.9C641.7 930.2 638.2 932.4 645.9 928.2C654.2 923.7 650.6 925.4 660.8 923.2C672.4 920.8 670.3 922.2 680.7 920.8C688.1 919.7 691.8 919 691.8 919C691.8 919 710.4 934.4 710.4 934.4C710.4 934.4 827 1013.8 827 1013.8C827 1013.8 827 1020 827 1020C827 1020 819.5 1021.2 819.5 1021.2C819.5 1021.2 153.8 1021.2 153.8 1021.2C153.8 1021.2 143 1021.4 138.9 1018.7C135.5 1016.6 141.4 1013.3 141.4 1013.3C141.4 1013.3 238.1 969.1 238.1 969.1Z" fill="#96fb6c" stroke="#06200a" stroke-width="1.3"/><path d="M233.1 971.6C233.1 971.6 239.7 962.9 248 959.2C254.1 956.5 253 958 257.9 960.4C262.7 962.8 262.2 961.4 262.9 966.6C263.7 972.8 262.1 970.8 260.4 979C258.8 987.3 257.1 984.8 257.9 991.4C258.7 997.4 258 995.5 262.9 998.9C269.5 1003.4 277.8 1005.1 277.8 1005.1C277.8 1005.1 276.8 1007.7 272.8 1008.8C262.9 1011.7 255.5 1011.5 248 1013.8C246 1014.4 250.5 1015.8 250.5 1015.8C250.5 1015.8 364.6 1017.7 364.6 1017.7C364.6 1017.7 364.6 1020.2 364.6 1020.2C364.6 1020.2 598.8 1020.2 598.8 1020.2C598.8 1020.2 598.8 1017.2 598.8 1017.2C598.8 1017.2 664.1 1018.9 705.5 1017.7C717.3 1017.4 722.8 1013.8 722.8 1013.8C722.8 1013.8 723.9 1009.8 720.3 1008.8C712.9 1006.7 710.4 1008.8 700.5 1007.6C693.7 1006.7 690.6 1005.1 690.6 1005.1C690.6 1005.1 695.7 1004.6 696.8 998.9C698.4 990.2 695.5 992.3 695.5 979C695.5 965.8 696.8 959.2 696.8 959.2C696.8 959.2 697.5 961.7 700.5 961.7C704.2 961.7 702.8 959.9 707.9 959.2C713.7 958.4 717.9 959.2 717.9 959.2C717.9 959.2 760 984 760 984C760 984 760 1021.2 760 1021.2C760 1021.2 153.8 1021.7 153.8 1021.7C153.8 1021.7 148.8 1008.8 148.8 1008.8C148.8 1008.8 233.1 971.6 233.1 971.6Z" fill="#ffdc00" stroke="#06200a" stroke-width="1.3"/><path d="M146.3 1018.7C146.3 1018.7 173.6 998.9 173.6 998.9C173.6 998.9 244.3 965.4 244.3 965.4C244.3 965.4 241.8 969.5 238.1 976.6C234.6 983.1 236.4 980.3 233.1 986.5C230 992.4 230.7 989.4 228.2 995.2C225.8 1000.7 227.3 999.3 225.7 1003.8C224.4 1007.3 226.5 1007.2 223.2 1008.8C216.6 1012.1 205.9 1013.8 205.9 1013.8C205.9 1013.8 219.8 1017.3 248 1018.7C286.9 1020.7 322.4 1019.7 322.4 1019.7C322.4 1019.7 322.4 1021.7 322.4 1021.7C322.4 1021.7 148.8 1021.7 148.8 1021.7C148.8 1021.7 146.3 1018.7 146.3 1018.7Z" fill="#fb0000" stroke="#06200a" stroke-width="1.0"/><path d="M714.1 959.2C714.1 959.2 715 965 717.9 974.1C720.6 982.6 719.5 978.2 722.8 986.5C726.1 994.8 724.5 992.3 727.8 998.9C730.4 1004.2 727.5 1003.4 732.7 1006.3C740.2 1010.5 741.8 1008.8 750.1 1011.3C755.1 1012.8 757.5 1013.8 757.5 1013.8C757.5 1013.8 746.2 1017.5 722.8 1018.7C682.3 1020.9 636 1020.2 636 1020.2C636 1020.2 636 1022.2 636 1022.2C636 1022.2 823.3 1022.2 823.3 1022.2C823.3 1022.2 824.5 1015 824.5 1015C824.5 1015 760 979 760 979C760 979 714.1 959.2 714.1 959.2Z" fill="#fb0000" stroke="#06200a" stroke-width="1.0"/><path d="M732.7 976.6C737.7 977 737.9 982 750.1 990.2C763.3 999.1 756.8 996 772.4 1003.4C788.1 1010.8 783.6 1007.4 797.2 1012.5C808 1016.6 817.5 1017.3 813.3 1018.7C809.2 1020.1 802.6 1019.6 784.8 1016.7C767.9 1014 773.2 1015.6 760 1010C749 1005.4 753.4 1007.2 745.1 1000.1C737.5 993.7 739.3 996.8 735.2 989C731.3 981.5 727.8 976.2 732.7 976.6Z" fill="#7c0000"/><path d="M188.5 1003.8C198 999.5 200.9 998.1 203.4 998.9C205.9 999.7 202.1 1002.9 195.9 1006.3C187.7 1010.9 186.8 1010 178.6 1012.5C173.8 1014 167.8 1016.7 171.1 1013.8C174.4 1010.9 177.7 1008.8 188.5 1003.8Z" fill="#7c0000" opacity="0.7"/><line x1="151.3" y1="1021" x2="823.3" y2="1021" stroke="#0a0a14" stroke-width="2.4"/><path d="M272.8 694.6C272.8 694.6 284 706.5 284 706.5C284 706.5 293.1 710.9 310 721.8C327 732.8 318.3 728.5 334.8 739.2C351 749.7 343.1 744.6 359.6 754.1C376 763.5 367.9 759.9 384.4 767.7C400.5 775.4 392.2 772.5 409.2 777.6C429.9 783.8 425.8 782.6 446.4 786.3C462.8 789.3 454.6 788 471.2 788.8C489.1 789.7 480.9 790.5 500 789.1C521.9 787.4 513.1 791.1 536.8 783.8C561.5 776.3 549.9 779.4 574 766.5C598.8 753.3 590.5 756.6 611.2 744.2C627.7 734.2 622 737.7 636 729.3C647.6 722.3 644.3 723.4 653.4 718.9C659.6 715.8 658.7 714.7 663.3 715.6C667.9 716.6 667.3 721.8 667.3 721.8C667.3 721.8 667.8 754.3 669 773.9C669.3 778.5 670.7 780.6 670.7 780.6C670.7 780.6 672.2 778.5 672.5 773.9C673.5 754.3 672.9 744.2 674 721.8C674.4 711.9 672.6 713.7 675.7 707C678.2 701.4 683.1 701.5 683.1 701.5C683.1 701.5 683.1 694.6 683.1 694.6C683.1 694.6 272.8 694.6 272.8 694.6Z" fill="#00e8fc" stroke="#06200a" stroke-width="1.2"/><path d="M290.2 702.5C290.2 702.5 300.8 706.8 322.4 714.4C345.6 722.5 334.8 719 359.6 726.8C384.3 734.6 372 732.2 396.8 738C421.3 743.7 409.2 741.1 434 744.2C458.7 747.2 449.2 746.2 471.2 747.1C490.4 748 480.8 748 500 747.1C521.9 746.2 512.5 748 536.8 744.2C561.5 740.3 549.5 742.4 574 735.5C598.8 728.5 588.9 730.9 611.2 723.1C631.2 716.1 624.4 717.7 641 711.9C654 707.3 649.9 708.9 660.8 705.7C669.3 703.2 673.7 702.3 673.7 702.3C673.7 702.3 650.9 697.5 650.9 697.5C650.9 697.5 650.9 692.1 650.9 692.1C650.9 692.1 322.4 692.1 322.4 692.1C322.4 692.1 322.4 698.5 322.4 698.5C322.4 698.5 290.2 702.5 290.2 702.5Z" fill="#96fb6c" stroke="#06200a" stroke-width="1.3"/><path d="M322.4 703.2C322.4 703.2 334.8 704.7 359.6 708.2C384.4 711.7 372 710.5 396.8 713.7C425.8 717.4 413.2 717 446.4 719.4C480.8 721.8 465.7 721.8 500 721.1C532.9 720.5 520.4 720.4 549.2 717.4C574.1 714.7 561.6 715.4 586.4 711.9C611.2 708.5 602.1 709.9 623.6 707C641.8 704.5 640 705 650.9 703.2C654.6 702.7 656.3 701.8 656.3 701.8C656.3 701.8 596.3 697.8 596.3 697.8C596.3 697.8 596.3 692.1 596.3 692.1C596.3 692.1 401.8 692.1 401.8 692.1C401.8 692.1 401.8 698 401.8 698C401.8 698 322.4 703.2 322.4 703.2Z" fill="#ffdc00" stroke="#06200a" stroke-width="1.3"/><path d="M406.7 704C406.7 704 420 703.4 446.4 703C477.5 702.5 464.3 702.5 500 702.5C538.4 702.5 529.5 702.2 561.6 703C584.8 703.6 596.3 705 596.3 705C596.3 705 584.8 705.6 561.6 706C529.5 706.5 538.4 706.5 500 706.5C464.3 706.5 477.5 706.8 446.4 706C419.9 705.3 406.7 704 406.7 704Z" fill="#7c0000" stroke="#300" stroke-width="0.8"/></g><line x1="117" y1="698.3" x2="136" y2="698.3" stroke="#777" stroke-width="1.2"/><g stroke="#000" stroke-opacity="0.16" stroke-width="1.3"><line x1="169.2" y1="675" x2="169.2" y2="1071.5"/><line x1="282.8" y1="675" x2="282.8" y2="1071.5"/><line x1="396.4" y1="675" x2="396.4" y2="1071.5"/><line x1="509.9" y1="675" x2="509.9" y2="1071.5"/><line x1="623.5" y1="675" x2="623.5" y2="1071.5"/><line x1="737.1" y1="675" x2="737.1" y2="1071.5"/><line x1="112.4" y1="1014.9" x2="850.7" y2="1014.9"/><line x1="112.4" y1="901.6" x2="850.7" y2="901.6"/><line x1="112.4" y1="788.3" x2="850.7" y2="788.3"/></g></g>
<g stroke="#0d0d0d" fill="none"><g stroke-width="2.6" stroke-linecap="square"><line x1="112.4" y1="675" x2="112.4" y2="1071.5"/><line x1="850.7" y1="675" x2="850.7" y2="1071.5"/><line x1="112.4" y1="675" x2="850.7" y2="675"/><line x1="112.4" y1="1071.5" x2="850.7" y2="1071.5"/></g><g stroke-width="2.2"><line x1="169.2" y1="675" x2="169.2" y2="687"/><line x1="169.2" y1="1071.5" x2="169.2" y2="1059.5"/><line x1="282.8" y1="675" x2="282.8" y2="687"/><line x1="282.8" y1="1071.5" x2="282.8" y2="1059.5"/><line x1="396.4" y1="675" x2="396.4" y2="687"/><line x1="396.4" y1="1071.5" x2="396.4" y2="1059.5"/><line x1="509.9" y1="675" x2="509.9" y2="687"/><line x1="509.9" y1="1071.5" x2="509.9" y2="1059.5"/><line x1="623.5" y1="675" x2="623.5" y2="687"/><line x1="623.5" y1="1071.5" x2="623.5" y2="1059.5"/><line x1="737.1" y1="675" x2="737.1" y2="687"/><line x1="737.1" y1="1071.5" x2="737.1" y2="1059.5"/><line x1="112.4" y1="1014.9" x2="124.4" y2="1014.9"/><line x1="850.7" y1="1014.9" x2="838.7" y2="1014.9"/><line x1="112.4" y1="901.6" x2="124.4" y2="901.6"/><line x1="850.7" y1="901.6" x2="838.7" y2="901.6"/><line x1="112.4" y1="788.3" x2="124.4" y2="788.3"/><line x1="850.7" y1="788.3" x2="838.7" y2="788.3"/></g></g>
<text transform="translate(169.2 1109) scale(0.746 1)" font-size="30.5" text-anchor="middle" fill="#111" stroke="#111" stroke-width="0.6">-<tspan dx="4">20</tspan></text><text transform="translate(281.5 1109) scale(0.746 1)" font-size="30.5" text-anchor="middle" fill="#111" stroke="#111" stroke-width="0.6">0</text><text transform="translate(396.4 1109) scale(0.746 1)" font-size="30.5" text-anchor="middle" fill="#111" stroke="#111" stroke-width="0.6">20</text><text transform="translate(509.9 1109) scale(0.746 1)" font-size="30.5" text-anchor="middle" fill="#111" stroke="#111" stroke-width="0.6">40</text><text transform="translate(623.5 1109) scale(0.746 1)" font-size="30.5" text-anchor="middle" fill="#111" stroke="#111" stroke-width="0.6">60</text><text transform="translate(734.8 1109) scale(0.746 1)" font-size="30.5" text-anchor="middle" fill="#111" stroke="#111" stroke-width="0.6">80</text><text transform="translate(845.7 1109) scale(0.746 1)" font-size="30.5" text-anchor="middle" fill="#111" stroke="#111" stroke-width="0.6">100</text><text transform="translate(96.5 1028.7) scale(0.746 1)" font-size="30.5" text-anchor="end" fill="#111" stroke="#111" stroke-width="0.6">0</text><text transform="translate(96.5 915.3) scale(0.746 1)" font-size="30.5" text-anchor="end" fill="#111" stroke="#111" stroke-width="0.6">20</text><text transform="translate(96.5 800) scale(0.746 1)" font-size="30.5" text-anchor="end" fill="#111" stroke="#111" stroke-width="0.6">40</text><text transform="translate(96.5 682.7) scale(0.746 1)" font-size="30.5" text-anchor="end" fill="#111" stroke="#111" stroke-width="0.6">60</text>
<rect x="867.9" y="1015.7" width="29.8" height="57.3" fill="#00008d"/><rect x="867.9" y="958.9" width="29.8" height="57.3" fill="#0000f4"/><rect x="867.9" y="902.1" width="29.8" height="57.3" fill="#00e8fc"/><rect x="867.9" y="845.4" width="29.8" height="57.3" fill="#96fb6c"/><rect x="867.9" y="788.6" width="29.8" height="57.3" fill="#ffdc00"/><rect x="867.9" y="731.8" width="29.8" height="57.3" fill="#fb0000"/><rect x="867.9" y="675" width="29.8" height="57.3" fill="#7c0000"/><rect x="867.9" y="675" width="29.8" height="3" fill="#3a0000" opacity="0.55"/><line x1="867.9" y1="1015.7" x2="897.7" y2="1015.7" stroke="#1a2a10" stroke-width="1" opacity="0.15"/><line x1="867.9" y1="958.9" x2="897.7" y2="958.9" stroke="#1a2a10" stroke-width="1" opacity="0.15"/><line x1="867.9" y1="902.1" x2="897.7" y2="902.1" stroke="#1a2a10" stroke-width="1" opacity="0.6"/><line x1="867.9" y1="845.4" x2="897.7" y2="845.4" stroke="#1a2a10" stroke-width="1" opacity="0.6"/><line x1="867.9" y1="788.6" x2="897.7" y2="788.6" stroke="#1a2a10" stroke-width="1" opacity="0.15"/><line x1="867.9" y1="731.8" x2="897.7" y2="731.8" stroke="#1a2a10" stroke-width="1" opacity="0.15"/><rect x="868.4" y="675.5" width="28.8" height="396.5" fill="none" stroke="#101030" stroke-width="1" opacity="0.45"/><text transform="translate(906.5 1081.5) scale(0.746 1)" font-size="30.5" text-anchor="start" fill="#111" stroke="#111" stroke-width="0.6">-<tspan dx="4">539</tspan></text><text transform="translate(906.5 1025) scale(0.746 1)" font-size="30.5" text-anchor="start" fill="#111" stroke="#111" stroke-width="0.6">-<tspan dx="4">200</tspan></text><text transform="translate(906.5 968.5) scale(0.746 1)" font-size="30.5" text-anchor="start" fill="#111" stroke="#111" stroke-width="0.6">0</text><text transform="translate(906.5 912) scale(0.746 1)" font-size="30.5" text-anchor="start" fill="#111" stroke="#111" stroke-width="0.6">200</text><text transform="translate(906.5 855.4) scale(0.746 1)" font-size="30.5" text-anchor="start" fill="#111" stroke="#111" stroke-width="0.6">400</text><text transform="translate(906.5 798.9) scale(0.746 1)" font-size="30.5" text-anchor="start" fill="#111" stroke="#111" stroke-width="0.6">600</text><text transform="translate(906.5 742.4) scale(0.746 1)" font-size="30.5" text-anchor="start" fill="#111" stroke="#111" stroke-width="0.6">800</text><text transform="translate(906.5 685.9) scale(0.746 1)" font-size="30.5" text-anchor="start" fill="#111" stroke="#111" stroke-width="0.6">1055</text>
<text transform="translate(438.5 1147.7) scale(0.869 1)" font-size="34" text-anchor="middle" fill="#111" stroke="#111" stroke-width="0.6">Coordinate x, mm</text>
<text transform="translate(38.6 841.5) rotate(-90) scale(0.869 1)" font-size="34" text-anchor="middle" fill="#111" stroke="#111" stroke-width="0.6">Coordinate z, mm</text>
<text transform="translate(997.4 873) rotate(-90) scale(0.869 1)" font-size="34" text-anchor="middle" fill="#111" stroke="#111" stroke-width="0.6">Longitudinal stress σ<tspan font-size="23" dy="8">x</tspan><tspan dy="-8">, MPa</tspan></text>
<circle cx="123.8" cy="856.3" r="3.4" fill="#111"/><circle cx="839.3" cy="856.3" r="3.4" fill="#111"/><line x1="123.8" y1="856.3" x2="232.2" y2="964.4" stroke="#111" stroke-width="2"/><path d="M236.2 968.4 l-13 -5.5 l7.5 -7.5z" fill="#111"/><text transform="translate(189.5 910) rotate(45)" font-size="27" font-style="italic" fill="#111" stroke="#111" stroke-width="0.7" text-anchor="middle">R = 28</text>
<rect x="5" y="1086.2" width="70" height="68.9" fill="#fff" stroke="#0d0d0d" stroke-width="1.6"/><text x="40" y="1130.7" font-size="31" font-style="italic" text-anchor="middle" fill="#0d0d0d" transform="translate(40 0) scale(0.85 1) translate(-40 0)">c</text>
<g clip-path="url(#cd)"><clipPath id="spd"><path d="M1070.6 1016.5 L1087.6 1016.5 L1098 1016.2 L1108.4 1015.1 L1118.6 1013.4 L1128.7 1011.1 L1138.7 1008.1 L1148.4 1004.4 L1157.9 1000.1 L1167 995.2 L1175.8 989.7 L1184.3 983.6 L1192.3 977 L1199.9 969.9 L1207 962.3 L1213.6 954.3 L1219.6 945.8 L1225.1 937 L1230 927.8 L1234.3 918.3 L1238 908.6 L1241 898.6 L1243.3 888.5 L1245 878.2 L1246.1 867.9 L1246.4 857.5 L1246.4 700.1 L1643.3 700.1 L1643.3 857.5 L1643.6 867.9 L1644.7 878.2 L1646.4 888.5 L1648.7 898.6 L1651.7 908.6 L1655.4 918.3 L1659.7 927.8 L1664.6 937 L1670.1 945.8 L1676.1 954.3 L1682.7 962.3 L1689.8 969.9 L1697.4 977 L1705.4 983.6 L1713.9 989.7 L1722.7 995.2 L1731.8 1000.1 L1741.3 1004.4 L1751 1008.1 L1761 1011.1 L1771.1 1013.4 L1781.3 1015.1 L1791.7 1016.2 L1802.1 1016.5 L1819.1 1016.5 L1819.1 1079 L1070.6 1079Z"/></clipPath><g clip-path="url(#spd)"><rect x="1076.3" y="675.7" width="737.1" height="397.6" fill="#00e8fc"/><path d="M1262.5 711.4C1259 711.4 1259.6 710.9 1257.5 713.2C1255.5 715.4 1256 714.7 1256.3 718.1C1257.1 726.8 1257 725.3 1260 739.2C1263.7 756.2 1262.1 749.2 1267.5 769C1272.8 788.8 1270.3 778.9 1276.1 798.7C1281.9 818.6 1279.9 808.7 1284.8 828.5C1289.7 848.2 1287.5 842.8 1291 858.3C1293.6 869.4 1293.7 863.5 1295.5 874.9C1297.5 887.9 1297.4 882.3 1297.2 897.2C1297 917 1296.8 909.6 1294.7 934.4C1292.7 959.2 1293.5 950.1 1291 971.6C1288.9 989.8 1290.6 985.7 1287.3 998.9C1285.1 1007.9 1284 1005.9 1281.1 1011.3C1279.7 1013.9 1278.6 1015 1278.6 1015C1278.6 1015 1287.3 1021.2 1287.3 1021.2C1287.3 1021.2 1276.6 1022.9 1267.5 1031.1C1259.2 1038.6 1261.7 1035.3 1260 1046C1258.4 1056.8 1260 1052.6 1262.5 1063.4C1264.8 1073.6 1267.5 1078.3 1267.5 1078.3C1267.5 1078.3 1621.5 1078.3 1621.5 1078.3C1621.5 1078.3 1625.2 1070 1627.7 1058.4C1629.8 1048.7 1631 1053.3 1629 1043.5C1626.9 1033.6 1630.4 1035.3 1621.5 1028.7C1611.6 1021.2 1599.2 1021.2 1599.2 1021.2C1599.2 1021.2 1615.3 1011.3 1615.3 1011.3C1615.3 1011.3 1611.6 1007.8 1609.1 998.9C1605.4 985.7 1607 989.9 1604.2 971.6C1600.9 950.1 1601.8 959.2 1599.2 934.4C1596.7 909.7 1596.8 917.6 1596.5 897.2C1596.2 881.1 1597.1 887.8 1598.2 873.1C1599.3 859.9 1598.2 866.5 1600 853.3C1601.9 838.4 1600.7 844.9 1604.2 828.5C1608.1 810.3 1605.9 818.4 1611.6 798.7C1617.4 778.9 1615.7 788.8 1621.5 769C1627.3 749.3 1624.8 756.6 1629 739.2C1632.5 724.4 1632.7 725.8 1633.9 716.9C1634.4 713.8 1635.4 713.9 1632.7 712.4C1629.4 710.6 1629.8 711.4 1624 711.4C1579.8 711.4 1582.7 712.4 1500 712.4C1379.5 712.4 1343.3 711.2 1262.5 711.4Z" fill="#0000f4" stroke="#06200a" stroke-width="0.8" stroke-opacity="0.6"/><path d="M1330 838.4C1330.8 833.4 1329.5 833.7 1334.4 832.2C1344.2 829.3 1342.6 829.7 1359.2 829.7C1379.9 829.7 1371.6 831 1396.4 832.2C1421.2 833.5 1408.8 833.9 1433.6 833.5C1458.4 833 1448.7 831.8 1470.8 831C1490.3 830.2 1482 834.3 1500 831C1517.5 827.8 1508.3 827.7 1524.8 821.1C1541.3 814.4 1537.2 815.7 1549.6 811.1C1557.7 808.2 1555 807.6 1562 807.4C1568.2 807.3 1567 805.7 1570.7 810.6C1574.7 816 1573.6 814.7 1573.9 823.5C1574.7 844.9 1573.8 840.7 1573.2 874.9C1572.5 911.8 1572.7 894.7 1571.9 934.4C1571.1 975.7 1570.3 974.1 1570.7 998.9C1570.8 1005.7 1578.1 1004.1 1573.2 1008.8C1566.1 1015.4 1549.6 1018.7 1549.6 1018.7C1549.6 1018.7 1557 1023.7 1557 1023.7C1557 1023.7 1543.8 1027.8 1524.8 1032.4C1508.4 1036.3 1516.6 1034.7 1500 1037.3C1477.9 1040.9 1486.4 1042 1458.4 1043C1428 1044.1 1437.8 1042.9 1408.8 1040.6C1383.9 1038.6 1390.6 1039.6 1371.6 1036.1C1358 1033.5 1351.8 1029.9 1351.8 1029.9C1351.8 1029.9 1355.5 1022.5 1355.5 1022.5C1355.5 1022.5 1344.8 1019.1 1334.4 1013.8C1327.1 1010 1325.4 1014.5 1324.5 1006.3C1321.6 979.9 1324.9 978.2 1325.7 934.4C1326.5 894.7 1325.6 906.9 1327 874.9C1328.1 850.5 1327.5 852.6 1330 838.4Z" fill="#00008d" stroke="#06200a" stroke-width="0.8" stroke-opacity="0.5"/><path d="M1235.2 725.6C1235.2 725.6 1250.6 724.3 1250.6 724.3C1250.6 724.3 1251.7 729.3 1253.8 739.2C1257 754.1 1255.5 749.2 1260 769C1264.6 788.8 1262.9 778.9 1267.5 798.7C1272 818.5 1270.3 808.7 1273.7 828.5C1276.9 848.2 1275.3 842.8 1277.4 858.3C1278.9 869.4 1279.7 863.7 1279.9 874.9C1280 887.9 1279.8 882.4 1277.9 897.2C1275.8 912.9 1276.7 905.5 1273.7 922C1270.2 941 1272 935.2 1267.5 954.2C1263.4 971 1265.8 965.4 1260 979C1255.1 990.7 1250.1 995.2 1250.1 995.2C1250.1 995.2 1242.5 993.7 1242.5 993.7C1242.5 993.7 1247.4 997.3 1247.4 997.3C1247.4 997.3 1241.9 999.9 1241.9 999.9C1241.9 999.9 1246.8 1003.5 1246.8 1003.5C1246.8 1003.5 1243.2 1003.8 1243.2 1003.8C1243.2 1003.8 1241.7 1009.7 1241.7 1009.7C1241.7 1009.7 1237.4 1005.5 1237.4 1005.5C1237.4 1005.5 1236.6 1011 1236.6 1011C1236.6 1011 1231.4 1008.2 1231.4 1008.2C1231.4 1008.2 1231.6 1014.1 1231.6 1014.1C1231.6 1014.1 1226.4 1011.3 1226.4 1011.3C1226.4 1011.3 1227 1017 1227 1017C1227 1017 1221.1 1015.1 1221.1 1015.1C1221.1 1015.1 1222 1021.1 1222 1021.1C1222 1021.1 1217.9 1021.2 1217.9 1021.2C1217.9 1021.2 1185.6 1021.7 1185.6 1021.7C1185.6 1021.7 1184 1013.8 1184 1013.8C1184 1013.8 1179.2 1017.6 1179.2 1017.6C1179.2 1017.6 1177.8 1011.6 1177.8 1011.6C1177.8 1011.6 1172.9 1015.3 1172.9 1015.3C1172.9 1015.3 1171.9 1009.4 1171.9 1009.4C1171.9 1009.4 1166.8 1012.8 1166.8 1012.8C1166.8 1012.8 1166.3 1006.7 1166.3 1006.7C1166.3 1006.7 1161.2 1010 1161.2 1010C1161.2 1010 1159.6 1006.3 1159.6 1006.3C1159.6 1006.3 1150.9 993.9 1150.9 993.9C1150.9 993.9 1210.4 884.8 1210.4 884.8C1210.4 884.8 1235.2 860 1235.2 860C1235.2 860 1235.2 725.6 1235.2 725.6Z" fill="#96fb6c" stroke="#06200a" stroke-width="1.4"/><path d="M1235.2 742.9C1235.2 742.9 1250.6 741.7 1250.6 741.7C1250.6 741.7 1251.5 749.2 1253.8 764C1256.5 781.4 1255.1 774 1258.8 793.8C1262.5 813.6 1261.7 803.7 1265 823.5C1268.3 843.3 1266.8 837.8 1268.7 853.3C1270.1 864.4 1270.6 858.8 1270.7 869.9C1270.8 882.1 1270.6 876.6 1268.9 889.8C1267 904.6 1268.6 898.2 1265 914.6C1261.2 931.9 1263.3 927 1257.5 941.8C1252.7 954.3 1247.6 959.2 1247.6 959.2C1247.6 959.2 1240.7 962.2 1240.7 962.2C1240.7 962.2 1242.8 968 1242.8 968C1242.8 968 1237 965.9 1237 965.9C1237 965.9 1239.1 971.7 1239.1 971.7C1239.1 971.7 1233.5 969.4 1233.5 969.4C1233.5 969.4 1234.5 975.8 1234.5 975.8C1234.5 975.8 1228.5 973.4 1228.5 973.4C1228.5 973.4 1229.5 979.7 1229.5 979.7C1229.5 979.7 1223.5 977.4 1223.5 977.4C1223.5 977.4 1223.9 984.1 1223.9 984.1C1223.9 984.1 1219.2 980.1 1219.2 980.1C1219.2 980.1 1219 986.3 1219 986.3C1219 986.3 1214.2 982.2 1214.2 982.2C1214.2 982.2 1214 988.5 1214 988.5C1214 988.5 1211.8 984.5 1211.8 984.5C1211.8 984.5 1206.6 988.1 1206.6 988.1C1206.6 988.1 1206.8 981.8 1206.8 981.8C1206.8 981.8 1201.6 985.3 1201.6 985.3C1201.6 985.3 1202.5 979.5 1202.5 979.5C1202.5 979.5 1196.4 981.4 1196.4 981.4C1196.4 981.4 1198.3 975.4 1198.3 975.4C1198.3 975.4 1194.3 975.3 1194.3 975.3C1194.3 975.3 1185.6 959.2 1185.6 959.2C1185.6 959.2 1235.2 860 1235.2 860C1235.2 860 1235.2 742.9 1235.2 742.9Z" fill="#ffdc00" stroke="#06200a" stroke-width="1.4"/><path d="M1235.2 765.2C1235.2 765.2 1250.1 764 1250.1 764C1250.1 764 1251.4 770.6 1253.1 783.8C1255.1 800.4 1253.6 793.8 1256.3 813.6C1259 833.5 1258.7 825.4 1261.3 843.4C1263.5 859.4 1264.1 852 1264 867.4C1263.8 882.5 1263.3 875.7 1260.8 889.8C1258.3 903.1 1259.6 896.5 1256.3 909.6C1252.7 923.7 1254.6 920.4 1250.1 931.9C1246.6 940.9 1247.6 939.2 1242.7 944.3C1238.9 948.2 1240.2 947.7 1235.2 947.3C1230.3 946.9 1231.5 947 1227.8 943.1C1224.1 939.2 1224.1 935.6 1224.1 935.6C1224.1 935.6 1210.4 909.6 1210.4 909.6C1210.4 909.6 1235.2 860 1235.2 860C1235.2 860 1235.2 765.2 1235.2 765.2Z" fill="#fb0000" stroke="#06200a" stroke-width="1.0"/><path d="M1235.2 806.2C1235.2 806.2 1249.6 808.7 1249.6 808.7C1249.6 808.7 1250.8 818.6 1252.6 833.5C1254.2 846.7 1253.4 842 1255.1 853.3C1256.4 862.8 1257.9 857.9 1257.5 867.4C1257.1 877.5 1256.7 873.6 1253.8 883.6C1251.1 892.9 1252.2 890 1248.9 897.2C1246.2 902.9 1247.2 904.3 1243.9 905.1C1240.6 906 1238.9 899.7 1238.9 899.7C1238.9 899.7 1222.8 884.8 1222.8 884.8C1222.8 884.8 1235.2 860 1235.2 860C1235.2 860 1235.2 806.2 1235.2 806.2Z" fill="#7c0000" stroke="#300" stroke-width="0.8"/><path d="M1653.8 714.4C1653.8 714.4 1638.9 716.4 1638.9 716.4C1638.9 716.4 1638 724.1 1635.2 739.2C1631.9 756.7 1633.5 749.2 1629 769C1624.4 788.8 1626.5 778.9 1621.5 798.7C1616.6 818.6 1617.8 808.7 1614.1 828.5C1610.4 848.1 1611.8 843.6 1610.4 858.3C1609.5 867.6 1609.2 863 1609.9 872.4C1610.7 883.7 1610.7 879 1612.8 892.2C1615.1 906.3 1613.4 899.8 1616.6 914.6C1620.3 931.9 1619 926.1 1624 944.3C1628.5 961 1627.7 955.9 1631.4 969.1C1634.2 979 1635.2 984 1635.2 984C1635.2 984 1641.4 989 1641.4 989C1641.4 989 1643.8 1003.8 1643.8 1003.8C1643.8 1003.8 1642.3 1005.9 1642.3 1005.9C1642.3 1005.9 1647.9 1003.6 1647.9 1003.6C1647.9 1003.6 1647.2 1009.6 1647.2 1009.6C1647.2 1009.6 1652.8 1007.3 1652.8 1007.3C1652.8 1007.3 1652.2 1013.4 1652.2 1013.4C1652.2 1013.4 1657.8 1011.1 1657.8 1011.1C1657.8 1011.1 1657.2 1017.1 1657.2 1017.1C1657.2 1017.1 1662.8 1014.8 1662.8 1014.8C1662.8 1014.8 1663.7 1018.7 1663.7 1018.7C1663.7 1018.7 1668.7 1022.5 1668.7 1022.5C1668.7 1022.5 1710.8 1022.5 1710.8 1022.5C1710.8 1022.5 1715.1 1020.6 1715.1 1020.6C1715.1 1020.6 1713.4 1014.9 1713.4 1014.9C1713.4 1014.9 1719.1 1016.6 1719.1 1016.6C1719.1 1016.6 1717.4 1010.9 1717.4 1010.9C1717.4 1010.9 1723.1 1012.6 1723.1 1012.6C1723.1 1012.6 1721.2 1007.1 1721.2 1007.1C1721.2 1007.1 1727.3 1008 1727.3 1008C1727.3 1008 1725.4 1002.2 1725.4 1002.2C1725.4 1002.2 1729.4 1001.4 1729.4 1001.4C1729.4 1001.4 1738.1 993.9 1738.1 993.9C1738.1 993.9 1698.4 909.6 1698.4 909.6C1698.4 909.6 1673.6 860 1673.6 860C1673.6 860 1653.8 714.4 1653.8 714.4Z" fill="#96fb6c" stroke="#06200a" stroke-width="1.4"/><path d="M1653.8 725.6C1653.8 725.6 1639.4 728 1639.4 728C1639.4 728 1638.6 735.1 1636.4 749.1C1633.8 766.1 1635.2 759.1 1631.4 778.9C1627.7 798.7 1629 788.8 1625.2 808.7C1621.5 828.4 1622.5 821.9 1620.3 838.4C1618.5 851.6 1618.8 846.9 1618.6 858.3C1618.3 867.7 1618 863.1 1619.5 872.4C1621.4 883.7 1620.9 879.8 1624 892.2C1627 903.9 1625.3 898.2 1629 909.6C1633.5 923.7 1632.3 918.7 1637.6 934.4C1642.7 949.2 1645.1 956.7 1645.1 956.7C1645.1 956.7 1644.1 960.8 1644.1 960.8C1644.1 960.8 1650.4 960.1 1650.4 960.1C1650.4 960.1 1647.6 965.8 1647.6 965.8C1647.6 965.8 1653.9 965 1653.9 965C1653.9 965 1651.1 970.8 1651.1 970.8C1651.1 970.8 1657.5 970 1657.5 970C1657.5 970 1654.7 975.7 1654.7 975.7C1654.7 975.7 1660.6 974.5 1660.6 974.5C1660.6 974.5 1659 980.5 1659 980.5C1659 980.5 1664.8 978.1 1664.8 978.1C1664.8 978.1 1663.3 984.2 1663.3 984.2C1663.3 984.2 1669.1 981.8 1669.1 981.8C1669.1 981.8 1667.5 987.9 1667.5 987.9C1667.5 987.9 1673.3 985.5 1673.3 985.5C1673.3 985.5 1674.1 992.2 1674.1 992.2C1674.1 992.2 1676.1 986.2 1676.1 986.2C1676.1 986.2 1680 991.2 1680 991.2C1680 991.2 1682.1 985.2 1682.1 985.2C1682.1 985.2 1686 990.2 1686 990.2C1686 990.2 1687.2 984.5 1687.2 984.5C1687.2 984.5 1692.6 988 1692.6 988C1692.6 988 1692.8 981.5 1692.8 981.5C1692.8 981.5 1698.2 985 1698.2 985C1698.2 985 1699.7 981 1699.7 981C1699.7 981 1710.8 971.6 1710.8 971.6C1710.8 971.6 1673.6 860 1673.6 860C1673.6 860 1653.8 725.6 1653.8 725.6Z" fill="#ffdc00" stroke="#06200a" stroke-width="1.4"/><path d="M1653.8 738C1653.8 738 1639.4 739.2 1639.4 739.2C1639.4 739.2 1639.1 745.8 1637.6 759C1635.8 775.6 1636.8 769 1633.9 788.8C1631 808.7 1632.3 798.7 1629 818.6C1625.7 838.4 1625.8 831.2 1624 848.3C1622.5 862.6 1622.5 856.9 1623.5 869.9C1624.4 881.7 1624 875.9 1627 887.3C1630.5 900.5 1628.7 894.9 1633.9 909.6C1639.6 925.3 1637.1 919.9 1643.8 934.4C1649.9 947.3 1654.3 953 1654.3 953C1654.3 953 1655.8 950.1 1658.7 944.3C1661.9 938.1 1663.7 934.4 1663.7 934.4C1663.7 934.4 1678.6 909.6 1678.6 909.6C1678.6 909.6 1673.6 860 1673.6 860C1673.6 860 1653.8 738 1653.8 738Z" fill="#fb0000" stroke="#06200a" stroke-width="1.0"/><path d="M1653.8 773.9C1653.8 773.9 1640.1 778.9 1640.1 778.9C1640.1 778.9 1639.7 788.9 1636.4 808.7C1633.1 828.5 1633.3 821.9 1630.2 838.4C1627.7 851.6 1627.9 848.6 1627 858.3C1626.4 864.4 1626.7 861.4 1627.5 867.4C1628.6 876.3 1627.3 873.4 1630.2 884.8C1633.6 898.2 1632.3 901.7 1637.6 907.6C1642.1 912.6 1641.8 906.1 1646.3 902.7C1650.2 899.7 1651.3 897.2 1651.3 897.2C1651.3 897.2 1673.6 884.8 1673.6 884.8C1673.6 884.8 1673.6 860 1673.6 860C1673.6 860 1653.8 773.9 1653.8 773.9Z" fill="#7c0000" stroke="#300" stroke-width="0.8"/><ellipse cx="1118.6" cy="1029.9" rx="6" ry="3.6" transform="rotate(25 1118.6 1029.9)" fill="#0000f4"/><ellipse cx="1772.8" cy="1031.6" rx="4" ry="7.5" transform="rotate(25 1772.8 1031.6)" fill="#0000f4"/></g><g stroke="#000" stroke-opacity="0.16" stroke-width="1.3"><line x1="1133" y1="675.7" x2="1133" y2="1073.3"/><line x1="1246.4" y1="675.7" x2="1246.4" y2="1073.3"/><line x1="1359.8" y1="675.7" x2="1359.8" y2="1073.3"/><line x1="1473.2" y1="675.7" x2="1473.2" y2="1073.3"/><line x1="1586.6" y1="675.7" x2="1586.6" y2="1073.3"/><line x1="1700" y1="675.7" x2="1700" y2="1073.3"/><line x1="1076.3" y1="1016.5" x2="1813.4" y2="1016.5"/><line x1="1076.3" y1="902.9" x2="1813.4" y2="902.9"/><line x1="1076.3" y1="789.3" x2="1813.4" y2="789.3"/></g></g>
<g stroke="#0d0d0d" fill="none"><g stroke-width="2.6" stroke-linecap="square"><line x1="1076.3" y1="675.7" x2="1076.3" y2="1073.3"/><line x1="1813.4" y1="675.7" x2="1813.4" y2="1073.3"/><line x1="1076.3" y1="675.7" x2="1813.4" y2="675.7"/><line x1="1076.3" y1="1073.3" x2="1813.4" y2="1073.3"/></g><g stroke-width="2.2"><line x1="1133" y1="675.7" x2="1133" y2="687.7"/><line x1="1133" y1="1073.3" x2="1133" y2="1061.3"/><line x1="1246.4" y1="675.7" x2="1246.4" y2="687.7"/><line x1="1246.4" y1="1073.3" x2="1246.4" y2="1061.3"/><line x1="1359.8" y1="675.7" x2="1359.8" y2="687.7"/><line x1="1359.8" y1="1073.3" x2="1359.8" y2="1061.3"/><line x1="1473.2" y1="675.7" x2="1473.2" y2="687.7"/><line x1="1473.2" y1="1073.3" x2="1473.2" y2="1061.3"/><line x1="1586.6" y1="675.7" x2="1586.6" y2="687.7"/><line x1="1586.6" y1="1073.3" x2="1586.6" y2="1061.3"/><line x1="1700" y1="675.7" x2="1700" y2="687.7"/><line x1="1700" y1="1073.3" x2="1700" y2="1061.3"/><line x1="1076.3" y1="1016.5" x2="1088.3" y2="1016.5"/><line x1="1813.4" y1="1016.5" x2="1801.4" y2="1016.5"/><line x1="1076.3" y1="902.9" x2="1088.3" y2="902.9"/><line x1="1813.4" y1="902.9" x2="1801.4" y2="902.9"/><line x1="1076.3" y1="789.3" x2="1088.3" y2="789.3"/><line x1="1813.4" y1="789.3" x2="1801.4" y2="789.3"/></g></g>
<text transform="translate(1130 1109) scale(0.746 1)" font-size="30.5" text-anchor="middle" fill="#111" stroke="#111" stroke-width="0.6">-<tspan dx="4">20</tspan></text><text transform="translate(1246.4 1109) scale(0.746 1)" font-size="30.5" text-anchor="middle" fill="#111" stroke="#111" stroke-width="0.6">0</text><text transform="translate(1360.8 1109) scale(0.746 1)" font-size="30.5" text-anchor="middle" fill="#111" stroke="#111" stroke-width="0.6">20</text><text transform="translate(1476.2 1109) scale(0.746 1)" font-size="30.5" text-anchor="middle" fill="#111" stroke="#111" stroke-width="0.6">40</text><text transform="translate(1590 1109) scale(0.746 1)" font-size="30.5" text-anchor="middle" fill="#111" stroke="#111" stroke-width="0.6">60</text><text transform="translate(1703.4 1109) scale(0.746 1)" font-size="30.5" text-anchor="middle" fill="#111" stroke="#111" stroke-width="0.6">80</text><text transform="translate(1815 1109) scale(0.746 1)" font-size="30.5" text-anchor="middle" fill="#111" stroke="#111" stroke-width="0.6">100</text><text transform="translate(1063 1029.1) scale(0.746 1)" font-size="30.5" text-anchor="end" fill="#111" stroke="#111" stroke-width="0.6">0</text><text transform="translate(1063 917.8) scale(0.746 1)" font-size="30.5" text-anchor="end" fill="#111" stroke="#111" stroke-width="0.6">20</text><text transform="translate(1063 803.5) scale(0.746 1)" font-size="30.5" text-anchor="end" fill="#111" stroke="#111" stroke-width="0.6">40</text><text transform="translate(1063 687.1) scale(0.746 1)" font-size="30.5" text-anchor="end" fill="#111" stroke="#111" stroke-width="0.6">60</text>
<rect x="1831" y="1016.5" width="31.7" height="57.3" fill="#00008d"/><rect x="1831" y="959.7" width="31.7" height="57.3" fill="#0000f4"/><rect x="1831" y="902.9" width="31.7" height="57.3" fill="#00e8fc"/><rect x="1831" y="846.1" width="31.7" height="57.3" fill="#96fb6c"/><rect x="1831" y="789.3" width="31.7" height="57.3" fill="#ffdc00"/><rect x="1831" y="732.5" width="31.7" height="57.3" fill="#fb0000"/><rect x="1831" y="675.7" width="31.7" height="57.3" fill="#7c0000"/><rect x="1831" y="675.7" width="31.7" height="3" fill="#3a0000" opacity="0.55"/><line x1="1831" y1="1016.5" x2="1862.7" y2="1016.5" stroke="#1a2a10" stroke-width="1" opacity="0.15"/><line x1="1831" y1="959.7" x2="1862.7" y2="959.7" stroke="#1a2a10" stroke-width="1" opacity="0.15"/><line x1="1831" y1="902.9" x2="1862.7" y2="902.9" stroke="#1a2a10" stroke-width="1" opacity="0.6"/><line x1="1831" y1="846.1" x2="1862.7" y2="846.1" stroke="#1a2a10" stroke-width="1" opacity="0.6"/><line x1="1831" y1="789.3" x2="1862.7" y2="789.3" stroke="#1a2a10" stroke-width="1" opacity="0.15"/><line x1="1831" y1="732.5" x2="1862.7" y2="732.5" stroke="#1a2a10" stroke-width="1" opacity="0.15"/><rect x="1831.5" y="676.2" width="30.7" height="396.6" fill="none" stroke="#101030" stroke-width="1" opacity="0.45"/><text transform="translate(1874 1082.5) scale(0.746 1)" font-size="30.5" text-anchor="start" fill="#111" stroke="#111" stroke-width="0.6">-<tspan dx="4">407</tspan></text><text transform="translate(1874 1026.4) scale(0.746 1)" font-size="30.5" text-anchor="start" fill="#111" stroke="#111" stroke-width="0.6">-<tspan dx="4">200</tspan></text><text transform="translate(1874 970.2) scale(0.746 1)" font-size="30.5" text-anchor="start" fill="#111" stroke="#111" stroke-width="0.6">0</text><text transform="translate(1874 914.1) scale(0.746 1)" font-size="30.5" text-anchor="start" fill="#111" stroke="#111" stroke-width="0.6">250</text><text transform="translate(1874 858) scale(0.746 1)" font-size="30.5" text-anchor="start" fill="#111" stroke="#111" stroke-width="0.6">500</text><text transform="translate(1874 801.9) scale(0.746 1)" font-size="30.5" text-anchor="start" fill="#111" stroke="#111" stroke-width="0.6">750</text><text transform="translate(1874 745.7) scale(0.746 1)" font-size="30.5" text-anchor="start" fill="#111" stroke="#111" stroke-width="0.6">1000</text><text transform="translate(1874 689.6) scale(0.746 1)" font-size="30.5" text-anchor="start" fill="#111" stroke="#111" stroke-width="0.6">1238</text>
<text transform="translate(1471.8 1148.3) scale(0.869 1)" font-size="34" text-anchor="middle" fill="#111" stroke="#111" stroke-width="0.6">Coordinate x, mm</text>
<text transform="translate(1969 896.8) rotate(-90) scale(0.869 1)" font-size="34" text-anchor="middle" fill="#111" stroke="#111" stroke-width="0.6">Normal stress σ<tspan font-size="23" dy="8" font-style="italic">z</tspan><tspan dy="-8">, MPa</tspan></text>
<circle cx="1087.6" cy="857.5" r="3.4" fill="#111"/><circle cx="1802.1" cy="857.5" r="3.4" fill="#111"/><line x1="1087.6" y1="857.5" x2="1195.9" y2="965.9" stroke="#111" stroke-width="2"/><path d="M1199.9 969.9 l-13 -5.5 l7.5 -7.5z" fill="#111"/><text transform="translate(1153.3 911.4) rotate(45)" font-size="27" font-style="italic" fill="#111" stroke="#111" stroke-width="0.7" text-anchor="middle">R = 28</text>
<rect x="997.5" y="1086.2" width="69.1" height="68.9" fill="#fff" stroke="#0d0d0d" stroke-width="1.6"/><text x="1032" y="1130.7" font-size="31" font-style="italic" text-anchor="middle" fill="#0d0d0d" transform="translate(1032 0) scale(0.85 1) translate(-1032 0)">d</text>
<g clip-path="url(#ce)"><clipPath id="spe"><path d="M150 1175.5 L413.8 1175.5 L413.8 1343.5 L413.8 1343.5 L414 1356.7 L414.8 1369.9 L416.1 1383 L417.9 1396.1 L420.2 1409.1 L423 1421.9 L426.4 1434.7 L430.2 1447.3 L434.5 1459.8 L439.3 1472.1 L444.6 1484.2 L450.3 1496 L456.6 1507.7 L463.2 1519.1 L470.3 1530.2 L477.9 1541 L485.8 1551.5 L494.2 1561.7 L502.9 1571.6 L512.1 1581.1 L521.6 1590.2 L531.4 1599 L541.6 1607.4 L552.1 1615.3 L562.9 1622.9 L574 1630 L585.4 1636.7 L597 1642.9 L608.9 1648.6 L621 1653.9 L633.2 1658.7 L645.7 1663.1 L658.3 1666.9 L671.1 1670.2 L683.9 1673 L696.9 1675.4 L710 1677.2 L723.1 1678.5 L736.2 1679.2 L749.4 1679.5 L797.4 1679.5 L797.4 1751.5 L150 1751.5Z"/></clipPath><g clip-path="url(#spe)"><rect x="172" y="1197.5" width="603.4" height="532" fill="#009cff"/><path d="M150 1692C150 1692 398 1692 398 1692C398 1692 406.1 1690.3 406.1 1690.3C406.1 1690.3 414.3 1692.7 414.3 1692.7C414.3 1692.7 422.4 1690.3 422.4 1690.3C422.4 1690.3 430.5 1692.7 430.5 1692.7C430.5 1692.7 438.7 1690.3 438.7 1690.3C438.7 1690.3 446.8 1692.7 446.8 1692.7C446.8 1692.7 454.9 1690.3 454.9 1690.3C454.9 1690.3 463 1692.7 463 1692.7C463 1692.7 471.2 1690.3 471.2 1690.3C471.2 1690.3 479.3 1692.7 479.3 1692.7C479.3 1692.7 487.4 1690.3 487.4 1690.3C487.4 1690.3 495.6 1692.7 495.6 1692.7C495.6 1692.7 503.7 1690.3 503.7 1690.3C503.7 1690.3 511.8 1692.7 511.8 1692.7C511.8 1692.7 519.9 1690.3 519.9 1690.3C519.9 1690.3 528.1 1692.7 528.1 1692.7C528.1 1692.7 536.2 1690.3 536.2 1690.3C536.2 1690.3 544.3 1692.7 544.3 1692.7C544.3 1692.7 552.5 1690.3 552.5 1690.3C552.5 1690.3 560.6 1692.7 560.6 1692.7C560.6 1692.7 568.7 1690.3 568.7 1690.3C568.7 1690.3 576.8 1692.7 576.8 1692.7C576.8 1692.7 585 1690.3 585 1690.3C585 1690.3 593.1 1692.7 593.1 1692.7C593.1 1692.7 601.2 1690.3 601.2 1690.3C601.2 1690.3 609.4 1692.7 609.4 1692.7C609.4 1692.7 617.5 1690.3 617.5 1690.3C617.5 1690.3 625.6 1692.7 625.6 1692.7C625.6 1692.7 633.7 1690.3 633.7 1690.3C633.7 1690.3 641.9 1692.7 641.9 1692.7C641.9 1692.7 579 1692.7 579 1692.7C579 1692.7 586.6 1690.2 586.6 1690.2C586.6 1690.2 594.3 1692.6 594.3 1692.6C594.3 1692.6 602 1690.2 602 1690.2C602 1690.2 609.6 1692.5 609.6 1692.5C609.6 1692.5 617.3 1690.1 617.3 1690.1C617.3 1690.1 625 1692.4 625 1692.4C625 1692.4 632.6 1690 632.6 1690C632.6 1690 640.3 1692.3 640.3 1692.3C640.3 1692.3 648 1689.9 648 1689.9C648 1689.9 655.6 1692.2 655.6 1692.2C655.6 1692.2 663.3 1691 663.3 1691C663.3 1691 666.3 1688 666.3 1688C666.3 1688 657.7 1684.4 648.4 1678.6C641.2 1674.1 643.5 1675.8 638.5 1670.7C634.3 1666.4 638.1 1667 633.5 1663.2C628.6 1659.1 630.1 1661.8 623.6 1658.3C616.2 1654.1 619.1 1656.3 611.2 1650.8C602.9 1645 607 1647.6 598.8 1640.9C589.7 1633.5 593.8 1636.6 583.9 1628.5C574.1 1620.5 579.4 1624 569 1616.6C557.5 1608.3 562.7 1611.9 549.2 1603.7C532.7 1593.6 519.4 1586.3 519.4 1586.3C519.4 1586.3 598.8 1588.8 598.8 1588.8C598.8 1588.8 797.2 1663.2 797.2 1663.2C797.2 1663.2 797.2 1762.4 797.2 1762.4C797.2 1762.4 150 1762.4 150 1762.4C150 1762.4 150 1692 150 1692Z" fill="#00008d"/><path d="M236 1194.8C236 1194.8 235.8 1207.3 238.5 1232C241.4 1258.5 240.3 1246.1 244.7 1274.2C249.2 1303.1 246.8 1292.4 252.1 1318.8C256.9 1342.2 254.6 1332 260.8 1353.5C266.6 1373.6 263.3 1365.1 270.7 1383.3C277.7 1400.4 274.9 1391.6 283.1 1408.1C291.4 1424.6 286.4 1417.2 295.5 1432.9C304.5 1448.4 301.1 1442.1 310.4 1455.2C318.8 1466.9 315.1 1460.7 323.6 1472.2C336.3 1489.5 332.3 1483.5 348.4 1507C364.9 1530.9 356.7 1520.2 373.2 1544.2C389.4 1567.6 385.6 1560.7 398 1578.9C406.8 1591.8 410.4 1598.7 410.4 1598.7C410.4 1598.7 412.9 1593.4 417.9 1594.3C422.8 1595.1 420.9 1596.1 425.3 1601.2C430.3 1607 432.7 1611.6 432.7 1611.6C432.7 1611.6 435.2 1603.4 440.2 1605.7C445.1 1608 443.1 1611.4 447.6 1618.6C451.4 1624.6 453.8 1627.3 453.8 1627.3C453.8 1627.3 455.2 1620.3 458.8 1619.1C462.3 1617.8 462.8 1619 464.5 1623.5C467.2 1630.8 467.2 1631 467 1640.9C466.8 1649.4 466.9 1649 463.7 1653.3C461.3 1656.6 460.4 1656.8 457.5 1653.8C454 1650.1 453.1 1642.1 453.1 1642.1C453.1 1642.1 452.3 1646.9 448.9 1650.8C445.8 1654.2 447.1 1655 442.7 1653.8C437.3 1652.3 439.4 1646.3 432.7 1646.3C426.1 1646.3 429.4 1654.3 422.8 1653.8C416.2 1653.3 412.9 1644.9 412.9 1644.9C412.9 1644.9 399.7 1647.2 373.2 1647.8C293.8 1649.8 174.8 1650.8 174.8 1650.8C174.8 1650.8 164.9 1650.8 164.9 1650.8C164.9 1650.8 164.9 1666.7 164.9 1666.7C164.9 1666.7 221.1 1666.5 298.8 1667.4C365 1668.2 360.8 1667.8 398 1669.4C406.5 1669.8 410.4 1672.4 410.4 1672.4C410.4 1672.4 419.5 1670 419.5 1670C419.5 1670 428.5 1672.4 428.5 1672.4C428.5 1672.4 437.6 1670.1 437.6 1670.1C437.6 1670.1 446.6 1672.5 446.6 1672.5C446.6 1672.5 455.7 1670.2 455.7 1670.2C455.7 1670.2 464.7 1672.6 464.7 1672.6C464.7 1672.6 473.8 1670.3 473.8 1670.3C473.8 1670.3 482.8 1672.7 482.8 1672.7C482.8 1672.7 491.9 1670.4 491.9 1670.4C491.9 1670.4 500.9 1672.8 500.9 1672.8C500.9 1672.8 510 1670.5 510 1670.5C510 1670.5 519 1672.9 519 1672.9C519 1672.9 528.1 1670.6 528.1 1670.6C528.1 1670.6 537.1 1673 537.1 1673C537.1 1673 546.2 1670.7 546.2 1670.7C546.2 1670.7 555.3 1673.1 555.3 1673.1C555.3 1673.1 564.3 1670.8 564.3 1670.8C564.3 1670.8 573.4 1673.2 573.4 1673.2C573.4 1673.2 582.4 1670.9 582.4 1670.9C582.4 1670.9 591.5 1672.1 591.5 1672.1C591.5 1672.1 601.9 1666.9 601.9 1666.9C601.9 1666.9 599.8 1662 593.8 1658.3C588.1 1654.7 588.1 1660.7 583.9 1655.8C579.8 1650.8 584.8 1650 581.4 1643.4C578.3 1637.1 577.1 1642.2 574 1635.9C569 1626 566.6 1613.6 566.6 1613.6C566.6 1613.6 698 1588.8 698 1588.8C698 1588.8 698 1340.8 698 1340.8C698 1340.8 446.8 1194.8 446.8 1194.8C446.8 1194.8 236 1194.8 236 1194.8Z" fill="#9bff63" stroke="#021428" stroke-width="1.7"/><path d="M417.1 1246.9C417.1 1246.9 413.3 1249.4 413.3 1249.4C413.3 1249.4 412.9 1261.8 410.9 1281.6C409 1299.9 410.4 1293.2 407.1 1308.9C404.3 1322.4 405.1 1320.5 400.9 1328.7C398.6 1333.5 399.3 1332.9 394.7 1333.7C390.2 1334.5 392.2 1333 387.3 1331.2C381.5 1329.1 384 1327.9 377.4 1327.5C370.8 1327.1 373.3 1326.5 367.5 1330C361.3 1333.7 362 1331.1 358.8 1338.7C355.1 1347.3 357.3 1344.4 356.3 1356C355.1 1370.1 356.3 1364.3 355.1 1380.8C353.8 1397.3 352.9 1389 352.6 1405.6C352.2 1424.6 351.1 1421.4 353.8 1437.9C355.8 1450 355.9 1443.6 360.8 1454.9C367.3 1469.6 364.1 1465.6 373.2 1482.2C381.8 1497.8 378.2 1490.4 388.1 1504.5C397.6 1518 393.1 1511.5 403 1524.3C412.7 1536.9 410.4 1536.3 417.9 1542.9C421.6 1546.3 421.3 1541.1 425.3 1544.2C431.1 1548.7 429.4 1553.7 435.2 1556.6C440.2 1559 438.1 1549.6 442.7 1552.8C448.4 1557 446 1561.9 452.6 1569C457.6 1574.4 457.6 1568.4 462.5 1573.9C468.3 1580.5 464.2 1582.6 469.9 1588.8C474.8 1594 475.2 1587.2 479.9 1592.5C485.6 1599.1 481.5 1600 487.3 1608.7C492.5 1616.4 491.7 1611 497.2 1618.6C503.8 1627.7 500.5 1631.8 507.1 1635.9C513.4 1639.9 511.3 1629.3 517.1 1631C522.9 1632.6 518.7 1638.4 524.5 1640.9C530.3 1643.4 528.5 1635.1 534.4 1638.4C541.9 1642.5 538.6 1649.2 546.8 1653.3C554.4 1657.1 552.6 1648.7 559.2 1650.8C565.8 1652.9 566.7 1659.5 566.7 1659.5C566.7 1659.5 568.7 1638.4 568.7 1638.4C568.7 1638.4 566.6 1646.3 561.7 1643.4C556.1 1640.1 559.1 1637.9 551.8 1628.5C543.5 1617.7 546.8 1620.2 536.9 1611.1C528.1 1603.1 529.1 1609.1 522 1601.2C515.4 1593.8 515.8 1587.6 515.8 1587.6C515.8 1587.6 596.4 1564 596.4 1564C596.4 1564 596.4 1340.8 596.4 1340.8C596.4 1340.8 471.6 1244.4 471.6 1244.4C471.6 1244.4 417.1 1246.9 417.1 1246.9Z" fill="#ff8b00" stroke="#021428" stroke-width="1.7"/><path d="M417.1 1347.3C417.1 1347.3 415.6 1347.3 413.3 1348.6C408.4 1351.5 410 1351.9 402.2 1356C394.3 1360.1 389.8 1361 389.8 1361C389.8 1361 388.5 1388.3 388.5 1388.3C388.5 1388.3 384.7 1389.7 382.3 1395.7C379 1404 379.4 1401.2 378.6 1413.1C377.8 1425.3 379.9 1432.4 379.9 1432.4C379.9 1432.4 389.4 1430.3 394.7 1432.9C399.3 1435.1 399.3 1437 396 1440.3C392.7 1443.6 384.8 1442.8 384.8 1442.8C384.8 1442.8 385.6 1452.7 388.5 1462.7C390.6 1469.8 389.5 1467.7 393.5 1472.6C397.1 1476.9 397 1472.8 400.5 1477.2C407 1485.4 403.8 1484.6 412.9 1497C421.9 1509.3 420.3 1506 427.8 1514.4C432.6 1519.8 435.2 1522.3 435.2 1522.3C435.2 1522.3 439.4 1519.5 445.1 1511.9C450.9 1504.3 452.6 1499.5 452.6 1499.5C452.6 1499.5 522 1464.8 522 1464.8C522 1464.8 522 1340.8 522 1340.8C522 1340.8 471.6 1343.6 471.6 1343.6C471.6 1343.6 417.1 1347.3 417.1 1347.3Z" fill="#860000"/></g><g clip-path="url(#spe)"><g stroke="#000" stroke-opacity="0.08" stroke-width="1.3"><line x1="293.9" y1="1199.5" x2="293.9" y2="1727.5"/><line x1="413.8" y1="1199.5" x2="413.8" y2="1727.5"/><line x1="533.6" y1="1199.5" x2="533.6" y2="1727.5"/><line x1="653.5" y1="1199.5" x2="653.5" y2="1727.5"/><line x1="174" y1="1679.5" x2="773.4" y2="1679.5"/><line x1="174" y1="1559.5" x2="773.4" y2="1559.5"/><line x1="174" y1="1439.5" x2="773.4" y2="1439.5"/><line x1="174" y1="1319.5" x2="773.4" y2="1319.5"/></g></g><g stroke="#000" stroke-opacity="0.02" stroke-width="1.3"><line x1="293.9" y1="1199.5" x2="293.9" y2="1727.5"/><line x1="413.8" y1="1199.5" x2="413.8" y2="1727.5"/><line x1="533.6" y1="1199.5" x2="533.6" y2="1727.5"/><line x1="653.5" y1="1199.5" x2="653.5" y2="1727.5"/><line x1="174" y1="1679.5" x2="773.4" y2="1679.5"/><line x1="174" y1="1559.5" x2="773.4" y2="1559.5"/><line x1="174" y1="1439.5" x2="773.4" y2="1439.5"/><line x1="174" y1="1319.5" x2="773.4" y2="1319.5"/></g></g>
<g stroke="#0d0d0d" fill="none"><g stroke-width="1.8" stroke-linecap="square"><line x1="174" y1="1199.5" x2="174" y2="1727.5"/><line x1="773.4" y1="1199.5" x2="773.4" y2="1727.5"/><line x1="174" y1="1199.5" x2="773.4" y2="1199.5"/><line x1="174" y1="1727.5" x2="773.4" y2="1727.5"/></g><g stroke-width="1.6"><line x1="293.9" y1="1199.5" x2="293.9" y2="1208.5"/><line x1="293.9" y1="1727.5" x2="293.9" y2="1718.5"/><line x1="413.8" y1="1199.5" x2="413.8" y2="1208.5"/><line x1="413.8" y1="1727.5" x2="413.8" y2="1718.5"/><line x1="533.6" y1="1199.5" x2="533.6" y2="1208.5"/><line x1="533.6" y1="1727.5" x2="533.6" y2="1718.5"/><line x1="653.5" y1="1199.5" x2="653.5" y2="1208.5"/><line x1="653.5" y1="1727.5" x2="653.5" y2="1718.5"/><line x1="174" y1="1679.5" x2="183" y2="1679.5"/><line x1="773.4" y1="1679.5" x2="764.4" y2="1679.5"/><line x1="174" y1="1559.5" x2="183" y2="1559.5"/><line x1="773.4" y1="1559.5" x2="764.4" y2="1559.5"/><line x1="174" y1="1439.5" x2="183" y2="1439.5"/><line x1="773.4" y1="1439.5" x2="764.4" y2="1439.5"/><line x1="174" y1="1319.5" x2="183" y2="1319.5"/><line x1="773.4" y1="1319.5" x2="764.4" y2="1319.5"/></g></g>
<text transform="translate(174 1764.5) scale(0.746 1)" font-size="30.5" text-anchor="middle" fill="#111" stroke="#111" stroke-width="0.6">60</text><text transform="translate(292.7 1764.5) scale(0.746 1)" font-size="30.5" text-anchor="middle" fill="#111" stroke="#111" stroke-width="0.6">65</text><text transform="translate(413.8 1764.5) scale(0.746 1)" font-size="30.5" text-anchor="middle" fill="#111" stroke="#111" stroke-width="0.6">70</text><text transform="translate(536.1 1764.5) scale(0.746 1)" font-size="30.5" text-anchor="middle" fill="#111" stroke="#111" stroke-width="0.6">75</text><text transform="translate(653.5 1764.5) scale(0.746 1)" font-size="30.5" text-anchor="middle" fill="#111" stroke="#111" stroke-width="0.6">80</text><text transform="translate(774.6 1764.5) scale(0.746 1)" font-size="30.5" text-anchor="middle" fill="#111" stroke="#111" stroke-width="0.6">85</text><text transform="translate(160 1691.2) scale(0.746 1)" font-size="30.5" text-anchor="end" fill="#111" stroke="#111" stroke-width="0.6">0</text><text transform="translate(160 1571.2) scale(0.746 1)" font-size="30.5" text-anchor="end" fill="#111" stroke="#111" stroke-width="0.6">5</text><text transform="translate(160 1451.2) scale(0.746 1)" font-size="30.5" text-anchor="end" fill="#111" stroke="#111" stroke-width="0.6">10</text><text transform="translate(160 1331.2) scale(0.746 1)" font-size="30.5" text-anchor="end" fill="#111" stroke="#111" stroke-width="0.6">15</text><text transform="translate(160 1209.7) scale(0.746 1)" font-size="30.5" text-anchor="end" fill="#111" stroke="#111" stroke-width="0.6">20</text>
<rect x="789.3" y="1621.9" width="27.3" height="106.1" fill="#00008d"/><rect x="789.3" y="1516.3" width="27.3" height="106.1" fill="#009cff"/><rect x="789.3" y="1410.7" width="27.3" height="106.1" fill="#9bff63"/><rect x="789.3" y="1305.1" width="27.3" height="106.1" fill="#ff8b00"/><rect x="789.3" y="1199.5" width="27.3" height="106.1" fill="#860000"/><rect x="789.3" y="1199.5" width="27.3" height="3" fill="#3a0000" opacity="0.55"/><line x1="789.3" y1="1621.9" x2="816.6" y2="1621.9" stroke="#1a2a10" stroke-width="1" opacity="0.15"/><line x1="789.3" y1="1516.3" x2="816.6" y2="1516.3" stroke="#1a2a10" stroke-width="1" opacity="0.6"/><line x1="789.3" y1="1410.7" x2="816.6" y2="1410.7" stroke="#1a2a10" stroke-width="1" opacity="0.6"/><line x1="789.3" y1="1305.1" x2="816.6" y2="1305.1" stroke="#1a2a10" stroke-width="1" opacity="0.15"/><rect x="789.8" y="1200" width="26.3" height="527" fill="none" stroke="#101030" stroke-width="1" opacity="0.45"/><text transform="translate(825.5 1735.1) scale(0.746 1)" font-size="30.5" text-anchor="start" fill="#111" stroke="#111" stroke-width="0.6">0</text><text transform="translate(825.5 1629.7) scale(0.746 1)" font-size="30.5" text-anchor="start" fill="#111" stroke="#111" stroke-width="0.6">0.50</text><text transform="translate(825.5 1524.2) scale(0.746 1)" font-size="30.5" text-anchor="start" fill="#111" stroke="#111" stroke-width="0.6">1.00</text><text transform="translate(825.5 1418.8) scale(0.746 1)" font-size="30.5" text-anchor="start" fill="#111" stroke="#111" stroke-width="0.6">1.50</text><text transform="translate(825.5 1313.3) scale(0.746 1)" font-size="30.5" text-anchor="start" fill="#111" stroke="#111" stroke-width="0.6">2.0</text><text transform="translate(825.5 1207.9) scale(0.746 1)" font-size="30.5" text-anchor="start" fill="#111" stroke="#111" stroke-width="0.6">2.5</text>
<text transform="translate(474.1 1803) scale(0.869 1)" font-size="34" text-anchor="middle" fill="#111" stroke="#111" stroke-width="0.6">Coordinate x, mm</text>
<text transform="translate(110.5 1449.5) rotate(-90) scale(0.869 1)" font-size="34" text-anchor="middle" fill="#111" stroke="#111" stroke-width="0.6">Coordinate z, mm</text>
<text transform="translate(935.4 1490) rotate(-90) scale(0.869 1)" font-size="34" text-anchor="middle" fill="#111" stroke="#111" stroke-width="0.6">Equivalent plastic strain, %</text>
<rect x="70.3" y="1743.6" width="69.3" height="69" fill="#fff" stroke="#0d0d0d" stroke-width="1.6"/><text x="104.9" y="1788.1" font-size="31" font-style="italic" text-anchor="middle" fill="#0d0d0d" transform="translate(104.9 0) scale(0.85 1) translate(-104.9 0)">e</text>
<g clip-path="url(#cf)"><clipPath id="spf"><path d="M1246.5 1187.4 L1389.6 1187.4 L1389.6 1350.7 L1389.6 1350.7 L1389.8 1362.2 L1390.4 1373.7 L1391.4 1385.2 L1392.7 1396.6 L1394.5 1408 L1396.6 1419.3 L1399.1 1430.6 L1402 1441.7 L1405.3 1452.8 L1409 1463.8 L1413 1474.6 L1417.4 1485.3 L1422.1 1495.8 L1427.2 1506.3 L1432.6 1516.5 L1438.4 1526.5 L1444.6 1536.4 L1451 1546.1 L1457.8 1555.6 L1464.9 1564.8 L1472.3 1573.8 L1480 1582.6 L1488 1591.1 L1496.3 1599.4 L1504.9 1607.4 L1513.7 1615.1 L1522.8 1622.6 L1532.2 1629.7 L1541.7 1636.6 L1551.6 1643.1 L1561.6 1649.4 L1571.8 1655.3 L1582.2 1660.9 L1592.8 1666.1 L1603.6 1671 L1614.5 1675.6 L1625.6 1679.8 L1636.9 1683.7 L1648.2 1687.2 L1659.7 1690.4 L1671.2 1693.2 L1682.9 1695.6 L1694.6 1697.7 L1706.4 1699.4 L1718.3 1700.7 L1730.1 1701.6 L1742.1 1702.2 L1754 1702.4 L1793 1702.4 L1793 1740.1 L1246.5 1740.1Z"/></clipPath><g clip-path="url(#spf)"><rect x="1257.5" y="1198" width="524.5" height="531.5" fill="#98ff6c"/><rect x="1257.5" y="1701.1" width="524.5" height="29.4" fill="#00008d"/><path d="M1257.5 1714.3C1257.5 1714.3 1257.5 1707.4 1257.5 1707.4C1257.5 1707.4 1661.6 1702.9 1661.6 1702.9C1661.6 1702.9 1669.1 1699.4 1681.5 1700.4C1693.6 1701.4 1692.2 1702.6 1698.8 1705.9C1701.9 1707.4 1703 1707.7 1701.3 1710.3C1699.7 1713 1693.9 1713.8 1693.9 1713.8C1693.9 1713.8 1257.5 1714.3 1257.5 1714.3Z" fill="#0024f4"/><path d="M1257.5 1708C1257.5 1708 1257.5 1699.9 1257.5 1699.9C1257.5 1699.9 1636.8 1690.5 1636.8 1690.5C1636.8 1690.5 1644.3 1691.7 1656.7 1695.5C1668.4 1699 1664.1 1697.9 1674 1701.7C1682.4 1704.9 1686.4 1706.9 1686.4 1706.9C1686.4 1706.9 1661.6 1708.4 1661.6 1708.4C1661.6 1708.4 1257.5 1708 1257.5 1708Z" fill="#00dcfb"/><rect x="1259.5" y="1703.9" width="389.7" height="3" fill="#30f0ff" opacity="0.7"/><rect x="1604.3" y="1639.6" width="175.7" height="61.5" fill="#00dcfb"/><path d="M1292.5 1194.8C1292.5 1194.8 1292 1226.2 1293.3 1269.2C1294.3 1305.6 1292.8 1290.7 1296.2 1323.8C1299.4 1353.8 1297.9 1341.1 1303.7 1368.4C1309 1393.5 1306.2 1382.5 1313.6 1405.6C1320.7 1427.5 1317.7 1418.8 1326 1437.9C1333.4 1454.8 1334 1453.7 1338.4 1462.7C1339.1 1464 1338.5 1463.4 1339.2 1464.8C1343.6 1473.8 1344.2 1475.5 1351.6 1489.6C1357.8 1501.4 1355.9 1494.9 1361.5 1507C1367.3 1519.4 1363.3 1513.9 1369 1526.8C1374.8 1540 1372.3 1535.7 1378.9 1546.6C1384.5 1555.9 1388.8 1559.5 1388.8 1559.5C1388.8 1559.5 1392.8 1542.9 1392.8 1542.9C1392.8 1542.9 1393.5 1556 1393.5 1556C1393.5 1556 1401.9 1556.3 1401.9 1556.3C1401.9 1556.3 1399.3 1564.3 1399.3 1564.3C1399.3 1564.3 1407.7 1564.5 1407.7 1564.5C1407.7 1564.5 1405 1572.6 1405 1572.6C1405 1572.6 1413.5 1572.8 1413.5 1572.8C1413.5 1572.8 1411.2 1581.3 1411.2 1581.3C1411.2 1581.3 1419.6 1580 1419.6 1580C1419.6 1580 1418.3 1588.4 1418.3 1588.4C1418.3 1588.4 1426.6 1587.1 1426.6 1587.1C1426.6 1587.1 1425.4 1595.5 1425.4 1595.5C1425.4 1595.5 1433.7 1594.2 1433.7 1594.2C1433.7 1594.2 1432.5 1602.6 1432.5 1602.6C1432.5 1602.6 1440.6 1601.1 1440.6 1601.1C1440.6 1601.1 1440.3 1609.8 1440.3 1609.8C1440.3 1609.8 1448.9 1608.1 1448.9 1608.1C1448.9 1608.1 1448.6 1616.8 1448.6 1616.8C1448.6 1616.8 1457.1 1615.2 1457.1 1615.2C1457.1 1615.2 1456.9 1623.8 1456.9 1623.8C1456.9 1623.8 1465.2 1622 1465.2 1622C1465.2 1622 1465.4 1630.5 1465.4 1630.5C1465.4 1630.5 1473.4 1627.8 1473.4 1627.8C1473.4 1627.8 1473.7 1636.2 1473.7 1636.2C1473.7 1636.2 1481.7 1633.6 1481.7 1633.6C1481.7 1633.6 1481.9 1642 1481.9 1642C1481.9 1642 1489.8 1639.2 1489.8 1639.2C1489.8 1639.2 1490.4 1647.5 1490.4 1647.5C1490.4 1647.5 1498 1644.2 1498 1644.2C1498 1644.2 1498.7 1652.5 1498.7 1652.5C1498.7 1652.5 1506.3 1649.1 1506.3 1649.1C1506.3 1649.1 1506.9 1657.4 1506.9 1657.4C1506.9 1657.4 1514.3 1654 1514.3 1654C1514.3 1654 1516.3 1662.5 1516.3 1662.5C1516.3 1662.5 1524.3 1658.9 1524.3 1658.9C1524.3 1658.9 1526.2 1667.5 1526.2 1667.5C1526.2 1667.5 1534.2 1663.9 1534.2 1663.9C1534.2 1663.9 1536.2 1672.5 1536.2 1672.5C1536.2 1672.5 1543.5 1668.3 1543.5 1668.3C1543.5 1668.3 1545.2 1676.5 1545.2 1676.5C1545.2 1676.5 1552.4 1672.3 1552.4 1672.3C1552.4 1672.3 1554.1 1680.5 1554.1 1680.5C1554.1 1680.5 1559.9 1679.3 1559.9 1679.3C1559.9 1679.3 1562.4 1688 1562.4 1688C1562.4 1688 1559.9 1685.2 1559.9 1685.2C1559.9 1685.2 1554.9 1688.4 1554.9 1688.4C1554.9 1688.4 1549.9 1685.2 1549.9 1685.2C1549.9 1685.2 1544.9 1688.5 1544.9 1688.5C1544.9 1688.5 1539.8 1685.3 1539.8 1685.3C1539.8 1685.3 1534.8 1688.6 1534.8 1688.6C1534.8 1688.6 1529.7 1685.4 1529.7 1685.4C1529.7 1685.4 1524.7 1688.6 1524.7 1688.6C1524.7 1688.6 1519.7 1685.5 1519.7 1685.5C1519.7 1685.5 1514.7 1688.7 1514.7 1688.7C1514.7 1688.7 1509.6 1685.5 1509.6 1685.5C1509.6 1685.5 1504.6 1688.8 1504.6 1688.8C1504.6 1688.8 1499.5 1685.6 1499.5 1685.6C1499.5 1685.6 1494.5 1688.8 1494.5 1688.8C1494.5 1688.8 1489.5 1685.7 1489.5 1685.7C1489.5 1685.7 1484.5 1688.9 1484.5 1688.9C1484.5 1688.9 1479.4 1685.8 1479.4 1685.8C1479.4 1685.8 1474.4 1689 1474.4 1689C1474.4 1689 1469.3 1685.8 1469.3 1685.8C1469.3 1685.8 1464.3 1689.1 1464.3 1689.1C1464.3 1689.1 1459.3 1685.9 1459.3 1685.9C1459.3 1685.9 1454.3 1689.1 1454.3 1689.1C1454.3 1689.1 1449.2 1686 1449.2 1686C1449.2 1686 1444.2 1689.2 1444.2 1689.2C1444.2 1689.2 1439.1 1686.1 1439.1 1686.1C1439.1 1686.1 1434.1 1689.3 1434.1 1689.3C1434.1 1689.3 1429.1 1686.1 1429.1 1686.1C1429.1 1686.1 1424.1 1689.4 1424.1 1689.4C1424.1 1689.4 1419 1686.2 1419 1686.2C1419 1686.2 1414 1689.4 1414 1689.4C1414 1689.4 1408.9 1686.3 1408.9 1686.3C1408.9 1686.3 1403.9 1689.5 1403.9 1689.5C1403.9 1689.5 1398.9 1686.3 1398.9 1686.3C1398.9 1686.3 1393.9 1689.6 1393.9 1689.6C1393.9 1689.6 1388.8 1688 1388.8 1688C1388.8 1688 1382.4 1684.7 1369 1684.3C1344.2 1683.5 1350.8 1685 1314.4 1685.5C1277.2 1686.1 1257.4 1686 1257.4 1686C1257.4 1686 1257.4 1697.2 1257.4 1697.2C1257.4 1697.2 1488 1697.9 1488 1697.9C1488 1697.9 1646.7 1697.9 1646.7 1697.9C1646.7 1697.9 1654.5 1697.3 1651.7 1694.2C1648.4 1690.5 1646.6 1691.9 1636.8 1686.8C1621.1 1678.5 1604.6 1669.4 1604.6 1669.4C1604.6 1669.4 1740 1663.2 1740 1663.2C1740 1663.2 1740 1142.4 1740 1142.4C1740 1142.4 1292.5 1194.8 1292.5 1194.8Z" fill="#ffe000" stroke="#06200a" stroke-width="1.0"/><path d="M1363.2 1194.8C1363.2 1194.8 1362.7 1207.3 1364.5 1232C1366.5 1260.9 1365.7 1251 1369.4 1281.6C1372.8 1309.8 1372.6 1304.6 1375.6 1323.8C1377.3 1334.1 1378.6 1339.1 1378.6 1339.1C1378.6 1339.1 1380.6 1334.2 1381.8 1323.8C1384 1304.6 1383.1 1309.7 1385 1281.6C1387.1 1251.8 1386.8 1263.4 1388 1234.5C1389.1 1208 1388.8 1194.8 1388.8 1194.8C1388.8 1194.8 1363.2 1194.8 1363.2 1194.8Z" fill="#98ff6c" stroke="#06200a" stroke-width="1.0"/><path d="M1374.4 1194.8C1374.4 1194.8 1375.2 1206.2 1376.9 1219.6C1378.1 1229.9 1379.3 1235 1379.3 1235C1379.3 1235 1380.5 1229.9 1381.8 1219.6C1383.5 1206.2 1384.3 1194.8 1384.3 1194.8C1384.3 1194.8 1374.4 1194.8 1374.4 1194.8Z" fill="#00dcfb" stroke="#06200a" stroke-width="0.8"/><path d="M1393 1343.6C1393 1343.6 1389.3 1348.6 1389.3 1348.6C1389.3 1348.6 1388 1351.9 1384.3 1356C1380.8 1359.9 1383.3 1359.8 1378.1 1361C1372.7 1362.2 1373.1 1358.1 1368.2 1359.7C1363.2 1361.4 1364.4 1360.8 1363.2 1365.9C1362 1371.3 1365.9 1369.3 1364.5 1375.9C1362.8 1383.3 1359.9 1379.2 1358.3 1388.3C1356.2 1399.8 1356.6 1395.8 1358.3 1410.6C1359.9 1425.5 1359.9 1418 1363.2 1432.9C1366.5 1447.8 1364.6 1442.9 1368.2 1455.2C1371.1 1465.2 1370.6 1459.9 1373.9 1469.8C1379.2 1485.4 1376.4 1481.3 1383.8 1502C1391.1 1522.2 1386.3 1513.6 1396.2 1531.8C1405.9 1549.5 1402.5 1542.9 1413.6 1556.6C1423.2 1568.3 1421.9 1568.1 1429.7 1572.7C1434.3 1575.3 1433.2 1566.8 1437.2 1570.2C1442.5 1574.8 1439 1576.2 1445.9 1586.3C1452.9 1596.7 1449.9 1591.4 1458.3 1601.2C1467.3 1612 1463.2 1608.7 1473.1 1618.6C1482.3 1627.7 1478.1 1623.5 1488 1631C1497.6 1638.1 1493 1634.3 1502.9 1640.9C1512.8 1647.5 1507.9 1645 1517.8 1650.8C1527.4 1656.4 1522.5 1653.9 1532.7 1658.3C1543.4 1662.9 1550 1664.7 1550 1664.7C1550 1664.7 1553 1658.3 1553 1658.3C1553 1658.3 1686.4 1638.4 1686.4 1638.4C1686.4 1638.4 1686.4 1142.4 1686.4 1142.4C1686.4 1142.4 1393 1343.6 1393 1343.6Z" fill="#fb0000"/><path d="M1393 1363.5C1393 1363.5 1389.3 1365.9 1389.3 1365.9C1389.3 1365.9 1386.8 1365.9 1383.1 1368.4C1379.3 1370.9 1381.2 1369.9 1378.1 1373.4C1374.4 1377.5 1373.5 1374.5 1371.9 1380.8C1370.2 1387.4 1374 1385.8 1373.1 1393.2C1372.4 1400.2 1368.6 1396.5 1369.4 1403.1C1370.2 1409.7 1374.4 1406.4 1375.6 1413.1C1376.9 1419.7 1372.5 1416.2 1373.1 1423C1374 1431.2 1375.4 1427.8 1378.1 1437.9C1381 1448.6 1379.9 1446.2 1381.8 1455.2C1383.2 1461.6 1381.7 1458.6 1383.8 1464.8C1387.8 1476.3 1387.2 1473.1 1393.8 1489.6C1400.4 1506.1 1395.7 1498.5 1403.7 1514.4C1412 1530.9 1408.7 1527.6 1418.6 1539.2C1426.3 1548.3 1425.2 1546.6 1433.5 1549.1C1440 1551.1 1438.8 1550.4 1443.4 1546.6C1447.9 1542.9 1447.1 1538 1447.1 1538C1447.1 1538 1537.6 1514.4 1537.6 1514.4C1537.6 1514.4 1537.6 1142.4 1537.6 1142.4C1537.6 1142.4 1393 1363.5 1393 1363.5Z" fill="#860000"/><path d="M1458.3 1573.9C1457.4 1576.4 1462.3 1567.9 1468.2 1571.4C1476.4 1576.4 1474 1578.9 1483.1 1588.8C1491 1597.4 1489.7 1593.8 1495.5 1601.2C1500 1607 1496.3 1607.8 1500.4 1611.1C1504.3 1614.2 1507.9 1611.1 1507.9 1611.1C1507.9 1611.1 1488 1588.8 1488 1588.8C1488 1588.8 1470.7 1564 1470.7 1564C1470.7 1564 1459.1 1571.4 1458.3 1573.9Z" fill="#860000"/><path d="M1460.7 1575.2C1462.4 1585.1 1464.9 1589.2 1473.1 1601.2C1479.1 1609.9 1476.9 1608.2 1485.5 1611.1C1494.2 1614 1495.9 1613.2 1499.2 1609.9C1502.5 1606.6 1499.3 1606.2 1495.5 1601.2C1490.1 1594.2 1491 1597.4 1483.1 1588.8C1474 1578.9 1475.6 1576 1468.2 1571.4C1463.4 1568.6 1459.8 1569.7 1460.7 1575.2Z" fill="#860000"/><ellipse cx="1555" cy="1660.7" rx="5.5" ry="3.5" fill="#c01000" transform="rotate(35 1555 1660.7)"/><ellipse cx="1564.9" cy="1665.7" rx="6.6" ry="4.2" fill="#c01000" transform="rotate(35 1564.9 1665.7)"/><ellipse cx="1582.3" cy="1673.1" rx="3.3" ry="2.1" fill="#c01000" transform="rotate(35 1582.3 1673.1)"/><ellipse cx="1594.7" cy="1680.6" rx="3.3" ry="2.1" fill="#c01000" transform="rotate(35 1594.7 1680.6)"/><ellipse cx="1604.6" cy="1693" rx="2.8" ry="1.8" fill="#c01000" transform="rotate(35 1604.6 1693)"/><ellipse cx="1614.5" cy="1688" rx="5.5" ry="3.5" fill="#c01000" transform="rotate(35 1614.5 1688)"/><ellipse cx="1634.3" cy="1694.2" rx="2.8" ry="1.8" fill="#c01000" transform="rotate(35 1634.3 1694.2)"/><line x1="1259.5" y1="1698.9" x2="1649.2" y2="1698.9" stroke="#3a8a30" stroke-width="1.4" stroke-dasharray="5 2"/></g><g clip-path="url(#spf)"><g stroke="#000" stroke-opacity="0.08" stroke-width="1.3"><line x1="1389.6" y1="1200" x2="1389.6" y2="1727.5"/><line x1="1519.8" y1="1200" x2="1519.8" y2="1727.5"/><line x1="1649.9" y1="1200" x2="1649.9" y2="1727.5"/><line x1="1259.5" y1="1702.4" x2="1780" y2="1702.4"/><line x1="1259.5" y1="1639.6" x2="1780" y2="1639.6"/><line x1="1259.5" y1="1576.8" x2="1780" y2="1576.8"/><line x1="1259.5" y1="1514" x2="1780" y2="1514"/><line x1="1259.5" y1="1451.2" x2="1780" y2="1451.2"/><line x1="1259.5" y1="1388.4" x2="1780" y2="1388.4"/><line x1="1259.5" y1="1325.6" x2="1780" y2="1325.6"/><line x1="1259.5" y1="1262.8" x2="1780" y2="1262.8"/></g></g><g stroke="#000" stroke-opacity="0.05" stroke-width="1.3"><line x1="1389.6" y1="1200" x2="1389.6" y2="1727.5"/><line x1="1519.8" y1="1200" x2="1519.8" y2="1727.5"/><line x1="1649.9" y1="1200" x2="1649.9" y2="1727.5"/></g><g stroke="#000" stroke-opacity="0.02" stroke-width="1.3"><line x1="1259.5" y1="1702.4" x2="1780" y2="1702.4"/><line x1="1259.5" y1="1639.6" x2="1780" y2="1639.6"/><line x1="1259.5" y1="1576.8" x2="1780" y2="1576.8"/><line x1="1259.5" y1="1514" x2="1780" y2="1514"/><line x1="1259.5" y1="1451.2" x2="1780" y2="1451.2"/><line x1="1259.5" y1="1388.4" x2="1780" y2="1388.4"/><line x1="1259.5" y1="1325.6" x2="1780" y2="1325.6"/><line x1="1259.5" y1="1262.8" x2="1780" y2="1262.8"/></g></g>
<g stroke="#0d0d0d" fill="none"><g stroke-width="1.8" stroke-linecap="square"><line x1="1259.5" y1="1200" x2="1259.5" y2="1727.5"/><line x1="1780" y1="1200" x2="1780" y2="1727.5"/><line x1="1259.5" y1="1200" x2="1780" y2="1200"/><line x1="1259.5" y1="1727.5" x2="1780" y2="1727.5"/></g><g stroke-width="1.6"><line x1="1389.6" y1="1200" x2="1389.6" y2="1209"/><line x1="1389.6" y1="1727.5" x2="1389.6" y2="1718.5"/><line x1="1519.8" y1="1200" x2="1519.8" y2="1209"/><line x1="1519.8" y1="1727.5" x2="1519.8" y2="1718.5"/><line x1="1649.9" y1="1200" x2="1649.9" y2="1209"/><line x1="1649.9" y1="1727.5" x2="1649.9" y2="1718.5"/><line x1="1259.5" y1="1702.4" x2="1268.5" y2="1702.4"/><line x1="1780" y1="1702.4" x2="1771" y2="1702.4"/><line x1="1259.5" y1="1639.6" x2="1268.5" y2="1639.6"/><line x1="1780" y1="1639.6" x2="1771" y2="1639.6"/><line x1="1259.5" y1="1576.8" x2="1268.5" y2="1576.8"/><line x1="1780" y1="1576.8" x2="1771" y2="1576.8"/><line x1="1259.5" y1="1514" x2="1268.5" y2="1514"/><line x1="1780" y1="1514" x2="1771" y2="1514"/><line x1="1259.5" y1="1451.2" x2="1268.5" y2="1451.2"/><line x1="1780" y1="1451.2" x2="1771" y2="1451.2"/><line x1="1259.5" y1="1388.4" x2="1268.5" y2="1388.4"/><line x1="1780" y1="1388.4" x2="1771" y2="1388.4"/><line x1="1259.5" y1="1325.6" x2="1268.5" y2="1325.6"/><line x1="1780" y1="1325.6" x2="1771" y2="1325.6"/><line x1="1259.5" y1="1262.8" x2="1268.5" y2="1262.8"/><line x1="1780" y1="1262.8" x2="1771" y2="1262.8"/></g></g>
<text transform="translate(1264 1764.5) scale(0.746 1)" font-size="30.5" text-anchor="middle" fill="#111" stroke="#111" stroke-width="0.6">60</text><text transform="translate(1392.2 1764.5) scale(0.746 1)" font-size="30.5" text-anchor="middle" fill="#111" stroke="#111" stroke-width="0.6">70</text><text transform="translate(1523 1764.5) scale(0.746 1)" font-size="30.5" text-anchor="middle" fill="#111" stroke="#111" stroke-width="0.6">80</text><text transform="translate(1652.7 1764.5) scale(0.746 1)" font-size="30.5" text-anchor="middle" fill="#111" stroke="#111" stroke-width="0.6">90</text><text transform="translate(1784.4 1764.5) scale(0.746 1)" font-size="30.5" text-anchor="middle" fill="#111" stroke="#111" stroke-width="0.6">100</text><text transform="translate(1245 1711.4) scale(0.746 1)" font-size="30.5" text-anchor="end" fill="#111" stroke="#111" stroke-width="0.6">0</text><text transform="translate(1245 1648.6) scale(0.746 1)" font-size="30.5" text-anchor="end" fill="#111" stroke="#111" stroke-width="0.6">5</text><text transform="translate(1245 1585.8) scale(0.746 1)" font-size="30.5" text-anchor="end" fill="#111" stroke="#111" stroke-width="0.6">10</text><text transform="translate(1245 1523) scale(0.746 1)" font-size="30.5" text-anchor="end" fill="#111" stroke="#111" stroke-width="0.6">15</text><text transform="translate(1245 1460.2) scale(0.746 1)" font-size="30.5" text-anchor="end" fill="#111" stroke="#111" stroke-width="0.6">20</text><text transform="translate(1245 1397.4) scale(0.746 1)" font-size="30.5" text-anchor="end" fill="#111" stroke="#111" stroke-width="0.6">25</text><text transform="translate(1245 1334.6) scale(0.746 1)" font-size="30.5" text-anchor="end" fill="#111" stroke="#111" stroke-width="0.6">30</text><text transform="translate(1245 1271.8) scale(0.746 1)" font-size="30.5" text-anchor="end" fill="#111" stroke="#111" stroke-width="0.6">35</text><text transform="translate(1245 1209) scale(0.746 1)" font-size="30.5" text-anchor="end" fill="#111" stroke="#111" stroke-width="0.6">40</text>
<rect x="1797.4" y="1652.1" width="27.6" height="75.9" fill="#00008d"/><rect x="1797.4" y="1576.8" width="27.6" height="75.9" fill="#0024f4"/><rect x="1797.4" y="1501.4" width="27.6" height="75.9" fill="#00dcfb"/><rect x="1797.4" y="1426.1" width="27.6" height="75.9" fill="#98ff6c"/><rect x="1797.4" y="1350.7" width="27.6" height="75.9" fill="#ffe000"/><rect x="1797.4" y="1275.4" width="27.6" height="75.9" fill="#fb0000"/><rect x="1797.4" y="1200" width="27.6" height="75.9" fill="#860000"/><rect x="1797.4" y="1200" width="27.6" height="3" fill="#3a0000" opacity="0.55"/><line x1="1797.4" y1="1652.1" x2="1825" y2="1652.1" stroke="#1a2a10" stroke-width="1" opacity="0.15"/><line x1="1797.4" y1="1576.8" x2="1825" y2="1576.8" stroke="#1a2a10" stroke-width="1" opacity="0.15"/><line x1="1797.4" y1="1501.4" x2="1825" y2="1501.4" stroke="#1a2a10" stroke-width="1" opacity="0.6"/><line x1="1797.4" y1="1426.1" x2="1825" y2="1426.1" stroke="#1a2a10" stroke-width="1" opacity="0.6"/><line x1="1797.4" y1="1350.7" x2="1825" y2="1350.7" stroke="#1a2a10" stroke-width="1" opacity="0.15"/><line x1="1797.4" y1="1275.4" x2="1825" y2="1275.4" stroke="#1a2a10" stroke-width="1" opacity="0.15"/><rect x="1797.9" y="1200.5" width="26.6" height="526.5" fill="none" stroke="#101030" stroke-width="1" opacity="0.45"/><text transform="translate(1840 1734.2) scale(0.746 1)" font-size="30.5" text-anchor="start" fill="#111" stroke="#111" stroke-width="0.6">0</text><text transform="translate(1840 1659.3) scale(0.746 1)" font-size="30.5" text-anchor="start" fill="#111" stroke="#111" stroke-width="0.6">0.25</text><text transform="translate(1840 1584.4) scale(0.746 1)" font-size="30.5" text-anchor="start" fill="#111" stroke="#111" stroke-width="0.6">0.50</text><text transform="translate(1840 1509.5) scale(0.746 1)" font-size="30.5" text-anchor="start" fill="#111" stroke="#111" stroke-width="0.6">0.75</text><text transform="translate(1840 1434.7) scale(0.746 1)" font-size="30.5" text-anchor="start" fill="#111" stroke="#111" stroke-width="0.6">1.00</text><text transform="translate(1840 1359.8) scale(0.746 1)" font-size="30.5" text-anchor="start" fill="#111" stroke="#111" stroke-width="0.6">1.25</text><text transform="translate(1840 1284.9) scale(0.746 1)" font-size="30.5" text-anchor="start" fill="#111" stroke="#111" stroke-width="0.6">1.50</text><text transform="translate(1840 1210) scale(0.746 1)" font-size="30.5" text-anchor="start" fill="#111" stroke="#111" stroke-width="0.6">1.75</text>
<text transform="translate(1507 1803) scale(0.869 1)" font-size="34" text-anchor="middle" fill="#111" stroke="#111" stroke-width="0.6">Coordinate x, mm</text>
<text transform="translate(1186 1468.5) rotate(-90) scale(0.869 1)" font-size="34" text-anchor="middle" fill="#111" stroke="#111" stroke-width="0.6">Coordinate z, mm</text>
<text transform="translate(1948.1 1459.5) rotate(-90) scale(0.869 1)" font-size="34" text-anchor="middle" fill="#111" stroke="#111" stroke-width="0.6">Equivalent plastic strain, %</text>
<rect x="1157" y="1743.4" width="69.3" height="69" fill="#fff" stroke="#0d0d0d" stroke-width="1.6"/><text x="1191.7" y="1787.9" font-size="31" font-style="italic" text-anchor="middle" fill="#0d0d0d" transform="translate(1191.7 0) scale(0.85 1) translate(-1191.7 0)">f</text>
</svg></body></html>
